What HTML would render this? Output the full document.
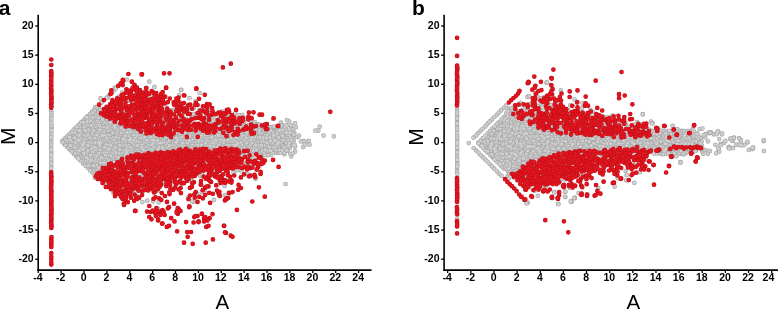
<!DOCTYPE html>
<html><head><meta charset="utf-8"><style>
html,body{margin:0;padding:0;background:#fff;}
svg{display:block;}
.ax{stroke:#000;stroke-width:1.6;}
.tk{stroke:#000;stroke-width:1.3;}
text{font-family:"Liberation Sans",Arial,sans-serif;fill:#000;}
.yl{font-size:10.5px;font-weight:bold;text-anchor:end;}
.xl{font-size:10.5px;font-weight:bold;text-anchor:middle;}
.pl{font-size:21px;font-weight:bold;}
.al{font-size:20.5px;text-anchor:middle;}
.ml{font-size:21px;text-anchor:middle;}
path{fill:none;stroke-linecap:round;}
.go{stroke:#a5a5a5;stroke-width:4.7;}
.gi{stroke:#cfcfcf;stroke-width:3.5;}
.ro{stroke:#bb101a;stroke-width:4.7;}
.ri{stroke:#e3141d;stroke-width:3.7;}
</style></head><body>
<svg width="778" height="310" viewBox="0 0 778 310">
<defs><path id="p1" d="M281.4 137.4h0M74.0 129.6h0M613.8 133.7h0M617.8 146.3h0M132.9 152.9h0M624.0 136.0h0M318.3 130.7h0M570.5 131.2h0M152.7 95.6h0M513.7 176.5h0M592.5 134.4h0M673.9 148.8h0M80.4 127.8h0M512.3 128.7h0M702.4 151.6h0M83.6 132.6h0M532.3 139.0h0M235.8 119.6h0M89.3 147.2h0M96.9 125.4h0M289.3 121.5h0M163.4 166.1h0M99.9 175.6h0M538.2 158.6h0M640.6 124.7h0M102.7 160.1h0M191.2 161.0h0M520.5 123.5h0M548.1 127.2h0M266.4 148.1h0M204.6 131.3h0M71.1 135.5h0M92.4 172.7h0M182.1 132.4h0M585.3 127.7h0M102.9 145.6h0M457.1 140.2h0M546.4 167.0h0M552.1 174.1h0M127.1 142.5h0M623.1 131.5h0M208.9 163.6h0M218.3 150.4h0M514.4 123.6h0M624.7 144.1h0M113.0 147.7h0M698.4 145.8h0M128.5 100.7h0M228.5 137.6h0M222.7 162.2h0M73.5 140.4h0M124.8 148.2h0M199.9 175.8h0M196.4 152.4h0M521.7 171.1h0M720.6 144.2h0M165.2 132.2h0M136.5 93.5h0M260.4 127.2h0M274.9 142.3h0M243.0 127.4h0M558.5 133.4h0M501.6 156.1h0M604.6 117.9h0M531.7 124.2h0M621.6 138.7h0M659.9 153.6h0M213.0 166.6h0M155.4 96.6h0M92.3 167.7h0M131.9 130.2h0M194.1 137.7h0M529.7 119.0h0M182.6 147.2h0M150.7 94.1h0M507.8 176.2h0M603.6 151.1h0M150.2 142.3h0M130.6 152.4h0M51.5 127.8h0M244.4 144.8h0M219.3 128.6h0M116.9 155.2h0M508.8 134.1h0M208.2 175.2h0M263.1 147.9h0M708.8 132.7h0M240.9 117.1h0M529.1 159.0h0M701.7 145.7h0M133.0 182.3h0M227.4 135.2h0M501.4 136.1h0M682.6 133.1h0M517.6 168.3h0M542.6 156.7h0M504.7 151.7h0M166.5 167.0h0M215.7 145.5h0M196.9 138.0h0M85.0 150.6h0M135.9 183.7h0M511.6 164.1h0M527.1 117.4h0M135.5 148.0h0M478.5 142.7h0M131.3 145.3h0M133.5 137.4h0M203.7 150.6h0M158.0 105.7h0M207.3 129.7h0M257.3 152.8h0M150.7 128.2h0M518.8 125.7h0M108.5 120.0h0M613.7 138.9h0M552.7 158.3h0M78.2 147.4h0M549.9 158.3h0M612.2 148.8h0M516.4 121.3h0M621.1 130.8h0M604.1 123.9h0M95.3 122.6h0M176.1 152.2h0M523.7 109.5h0M512.8 136.1h0M744.4 144.8h0M530.9 126.3h0M651.1 137.2h0M244.5 129.4h0M513.4 146.5h0M111.2 173.8h0M507.9 171.3h0M195.6 135.0h0M247.7 135.0h0M500.0 123.6h0M677.2 133.9h0M130.5 193.5h0M543.3 153.9h0M587.2 154.0h0M144.7 153.2h0M673.1 151.3h0M134.2 124.8h0M167.0 121.4h0M582.2 115.0h0M499.3 141.5h0M498.4 161.2h0M231.2 127.7h0M238.8 127.3h0M232.1 119.2h0M216.7 152.8h0M51.2 132.6h0M639.4 138.9h0M224.2 135.1h0M124.5 142.3h0M221.1 130.5h0M208.8 148.1h0M530.2 131.2h0M209.6 125.6h0M213.9 132.2h0M140.9 111.4h0M114.5 155.1h0M718.7 149.7h0M166.7 155.6h0M538.0 123.1h0M509.0 123.8h0M234.6 147.5h0M523.0 138.7h0M258.7 140.5h0M587.4 148.8h0M138.5 189.9h0M719.3 151.6h0M166.0 140.4h0M143.9 164.5h0M494.3 168.7h0M589.5 122.7h0M205.1 132.4h0M152.2 135.3h0M574.2 127.6h0M690.6 135.9h0M110.8 150.1h0M121.0 148.1h0M95.4 127.2h0M533.2 156.2h0M519.3 150.8h0M144.2 189.1h0M534.3 113.3h0M571.3 201.7h0M237.7 148.0h0M687.1 141.0h0M574.9 198.1h0M494.2 133.1h0M659.8 138.6h0M532.6 128.5h0M151.8 171.7h0M178.2 150.5h0M187.7 147.4h0M699.1 141.6h0M562.7 155.8h0M531.2 120.8h0"/></defs>
<use href="#p1" class="go"/><use href="#p1" class="gi"/>
<defs><path id="p2" d="M732.8 141.0h0M623.1 137.3h0M113.9 119.1h0M509.2 148.2h0M563.0 168.6h0M671.2 154.0h0M182.4 172.9h0M494.5 143.2h0M161.8 168.2h0M162.9 182.1h0M505.6 128.9h0M651.2 148.2h0M204.9 189.8h0M124.7 132.7h0M171.5 129.4h0M196.5 118.0h0M219.7 124.9h0M604.2 138.6h0M210.3 139.8h0M636.2 148.3h0M104.4 172.5h0M275.1 132.3h0M72.5 137.5h0M101.6 122.2h0M125.9 160.7h0M543.5 171.6h0M639.2 143.4h0M617.9 135.7h0M181.3 154.9h0M123.4 145.3h0M480.5 130.9h0M559.2 113.0h0M496.4 131.3h0M243.2 142.4h0M217.2 129.3h0M557.2 125.1h0M51.1 139.8h0M89.9 153.0h0M97.3 144.7h0M110.3 157.6h0M183.8 150.4h0M147.4 152.9h0M480.8 140.4h0M144.2 159.8h0M96.9 160.5h0M489.7 136.0h0M542.7 126.7h0M144.5 106.2h0M70.8 150.1h0M536.5 121.0h0M243.6 166.8h0M238.6 124.7h0M541.3 118.3h0M622.5 133.7h0M156.2 147.8h0M122.6 155.5h0M146.6 145.6h0M210.1 175.3h0M597.8 135.7h0M501.4 151.0h0M154.8 171.5h0M666.8 151.5h0M571.0 136.6h0M133.1 127.5h0M129.1 155.3h0M601.3 126.4h0M153.8 132.8h0M105.0 176.8h0M89.5 122.6h0M148.5 140.1h0M98.7 162.6h0M177.5 166.8h0M590.2 149.1h0M283.4 143.0h0M207.8 126.7h0M531.1 140.8h0M129.8 142.3h0M520.4 113.1h0M684.3 150.9h0M552.3 111.0h0M510.6 161.0h0M528.8 138.5h0M250.1 149.9h0M527.8 156.3h0M503.8 168.6h0M261.8 129.9h0M212.7 129.8h0M284.5 154.3h0M479.8 143.2h0M158.1 135.4h0M529.3 117.7h0M83.7 137.8h0M640.4 131.1h0M242.2 114.8h0M130.0 127.7h0M692.7 129.2h0M520.6 102.8h0M535.5 164.2h0M233.1 150.3h0M512.9 121.0h0M763.7 141.1h0M553.6 136.5h0M595.8 138.5h0M628.7 150.4h0M457.2 149.8h0M95.2 112.4h0M497.7 123.6h0M494.5 154.2h0M226.2 143.0h0M516.5 166.0h0M136.9 109.5h0M111.4 125.4h0M230.4 152.1h0M180.8 130.4h0M117.2 181.8h0M235.0 113.4h0M545.2 146.4h0M148.0 137.3h0M155.9 166.5h0M114.3 134.7h0M476.1 150.4h0M191.0 142.3h0M82.0 140.3h0M591.4 141.0h0M105.3 160.7h0M514.7 118.2h0M518.7 130.8h0M203.1 164.9h0M125.1 102.6h0M562.9 117.9h0M253.1 158.5h0M140.6 139.8h0M610.1 132.4h0M173.7 147.3h0M625.7 170.8h0M197.1 193.6h0M124.9 105.9h0M537.9 128.4h0M527.2 174.8h0M248.1 145.5h0M763.8 151.0h0M69.1 142.8h0M544.2 149.0h0M700.8 138.4h0M134.1 178.7h0M85.6 140.1h0M109.5 132.2h0M694.0 142.5h0M668.8 143.7h0M158.0 96.8h0M99.8 119.7h0M724.1 142.9h0M493.0 141.4h0M553.5 131.4h0M626.2 180.3h0M687.0 151.4h0M595.5 120.8h0M680.4 162.4h0M253.0 130.1h0M281.2 148.0h0M284.1 152.6h0M262.5 135.1h0M126.1 125.4h0M167.3 131.0h0M152.3 114.6h0M457.1 154.6h0M518.8 166.5h0M308.7 140.8h0M497.8 144.0h0M219.6 127.5h0M119.8 130.5h0M559.6 131.5h0M667.3 146.5h0M614.6 186.6h0M195.7 139.8h0M198.0 150.4h0M127.0 122.9h0M181.0 155.5h0M205.6 147.3h0M514.5 168.8h0M248.8 138.1h0M503.0 123.5h0M649.7 145.7h0M669.5 145.7h0M518.6 141.3h0M131.9 159.9h0M623.9 151.5h0M481.8 141.4h0M86.9 142.7h0M504.3 146.4h0M602.9 141.0h0M108.8 95.6h0M122.8 150.4h0M233.5 172.6h0M245.8 127.7h0M141.7 152.6h0M154.6 130.1h0M574.9 197.6h0M614.7 146.5h0M158.0 191.0h0M665.1 153.9h0"/></defs>
<use href="#p2" class="go"/><use href="#p2" class="gi"/>
<defs><path id="p3" d="M684.6 152.4h0M167.8 138.1h0M620.2 151.3h0M174.0 104.6h0M748.8 149.9h0M517.2 174.1h0M138.4 93.1h0M187.9 133.0h0M679.6 138.2h0M511.7 158.3h0M498.9 126.0h0M192.1 181.2h0M99.6 114.6h0M510.5 121.1h0M120.3 106.7h0M69.4 134.1h0M457.1 142.6h0M135.1 170.0h0M680.3 153.8h0M554.4 141.3h0M269.4 152.6h0M150.1 166.8h0M103.1 150.3h0M509.0 138.3h0M610.0 159.0h0M154.6 145.1h0M713.9 134.3h0M248.0 125.5h0M517.3 148.5h0M213.7 169.6h0M105.9 125.4h0M513.4 116.1h0M578.6 138.7h0M168.0 153.1h0M154.7 175.7h0M211.2 132.6h0M158.2 144.9h0M614.6 131.4h0M168.7 118.3h0M637.0 133.6h0M565.6 136.1h0M103.6 178.3h0M190.7 157.9h0M682.8 148.9h0M587.1 117.2h0M281.3 127.3h0M482.6 144.0h0M521.7 160.8h0M103.6 158.0h0M488.4 133.3h0M213.6 131.0h0M152.4 92.5h0M457.2 161.8h0M238.7 135.4h0M518.0 153.7h0M149.8 168.8h0M457.0 169.0h0M180.4 150.1h0M535.1 133.7h0M246.6 148.0h0M200.5 163.1h0M96.3 109.6h0M89.1 167.4h0M682.7 139.5h0M568.4 141.1h0M160.9 128.3h0M677.6 148.3h0M259.0 134.8h0M646.4 141.6h0M185.7 148.0h0M518.0 164.1h0M107.3 132.5h0M610.0 153.2h0M149.1 179.5h0M578.9 123.5h0M492.3 157.1h0M560.0 166.9h0M149.5 102.1h0M99.4 135.5h0M108.5 165.0h0M523.6 154.0h0M532.1 148.6h0M101.4 137.5h0M81.3 152.3h0M247.0 127.3h0M92.9 162.9h0M531.8 118.9h0M88.1 140.1h0M234.3 132.3h0M94.3 145.2h0M563.9 138.8h0M214.0 199.9h0M154.9 191.3h0M147.3 167.4h0M279.4 144.7h0M252.0 147.7h0M290.0 148.1h0M677.3 144.2h0M119.9 140.1h0M651.3 145.1h0M513.8 131.5h0M697.1 143.6h0M588.6 131.0h0M98.7 177.3h0M630.4 144.1h0M595.8 133.2h0M634.3 165.1h0M554.6 128.4h0M565.6 130.7h0M730.3 139.0h0M136.5 177.2h0M201.6 150.7h0M252.4 121.5h0M636.1 138.4h0M131.9 134.8h0M132.8 189.1h0M224.6 185.9h0M457.1 145.0h0M236.1 170.5h0M550.9 151.5h0M516.0 151.4h0M117.1 172.1h0M232.7 125.9h0M192.3 130.3h0M510.1 131.3h0M249.6 128.6h0M174.7 169.2h0M271.0 135.2h0M542.6 146.5h0M315.4 130.7h0M221.1 150.7h0M281.0 122.7h0M473.6 148.0h0M277.8 152.9h0M184.1 140.3h0M121.1 157.6h0M520.3 138.6h0M106.0 165.4h0M526.1 183.7h0M228.4 147.8h0M593.0 148.2h0M563.9 133.6h0M224.6 123.5h0M142.8 155.0h0M602.0 149.2h0M457.1 152.2h0M530.9 166.0h0M686.1 152.9h0M603.7 136.0h0M177.8 145.5h0M147.1 162.0h0M521.9 136.1h0M499.2 122.0h0M591.7 136.5h0M499.0 173.6h0M103.0 125.2h0M529.3 154.1h0M544.1 97.4h0M120.2 120.4h0M136.7 106.2h0M150.7 96.3h0M507.5 131.0h0M268.1 140.3h0M731.9 140.2h0M588.6 146.5h0M153.5 152.4h0M64.8 144.6h0M634.7 146.7h0M192.0 134.8h0M248.7 133.0h0M124.1 163.6h0M111.3 130.1h0M164.1 154.0h0M160.3 140.6h0M557.2 151.2h0M155.1 105.9h0M76.3 156.3h0M177.9 176.0h0M554.4 155.8h0M606.5 141.2h0M514.3 143.3h0M690.4 151.2h0M109.9 127.3h0M225.5 132.7h0M191.5 130.2h0M200.6 149.9h0M138.7 157.7h0M671.7 148.5h0M224.7 144.8h0M546.5 82.7h0M559.2 136.3h0M163.6 145.5h0M294.3 132.9h0M570.2 128.1h0M678.7 151.0h0M197.2 115.6h0M305.8 141.8h0M548.2 155.8h0M183.1 163.7h0M457.0 109.0h0M194.2 142.8h0"/></defs>
<use href="#p3" class="go"/><use href="#p3" class="gi"/>
<defs><path id="p4" d="M633.7 133.3h0M555.7 139.1h0M537.5 164.3h0M124.0 157.7h0M85.2 119.7h0M161.6 137.8h0M638.4 136.2h0M626.3 129.6h0M125.8 179.9h0M163.1 163.5h0M257.5 127.5h0M113.7 90.7h0M83.2 163.4h0M193.9 124.0h0M557.9 116.3h0M127.4 180.3h0M556.6 156.2h0M592.3 121.2h0M279.4 140.3h0M163.9 130.3h0M485.4 126.4h0M230.6 129.9h0M100.1 174.9h0M229.6 120.0h0M83.2 120.6h0M136.8 195.8h0M154.5 86.9h0M638.4 151.6h0M121.7 138.1h0M504.6 166.7h0M675.5 151.6h0M675.7 141.6h0M156.7 153.0h0M559.2 171.1h0M243.3 137.3h0M549.5 143.7h0M241.6 140.2h0M147.7 147.4h0M539.8 141.0h0M113.0 127.5h0M641.2 141.5h0M213.0 123.7h0M171.2 132.8h0M661.6 151.6h0M545.5 179.9h0M202.4 150.7h0M227.8 129.0h0M561.0 139.0h0M115.8 122.4h0M240.5 137.3h0M117.3 150.0h0M81.9 155.0h0M66.8 142.6h0M210.8 114.9h0M265.1 140.5h0M492.5 136.1h0M126.0 145.1h0M142.0 179.5h0M643.3 136.4h0M681.8 141.3h0M201.7 128.7h0M87.8 168.0h0M139.3 131.5h0M69.4 149.3h0M147.4 118.2h0M106.7 162.4h0M169.0 149.9h0M119.6 155.6h0M220.1 147.5h0M154.4 150.7h0M669.5 151.0h0M291.6 145.0h0M676.7 153.8h0M103.9 143.1h0M494.2 158.3h0M500.1 159.1h0M655.8 136.6h0M285.4 130.0h0M508.6 118.5h0M589.8 134.1h0M134.1 160.6h0M108.5 112.4h0M205.6 118.5h0M204.1 130.4h0M494.3 117.0h0M225.1 167.4h0M684.7 141.4h0M505.6 148.6h0M230.7 134.7h0M130.1 157.4h0M251.9 128.4h0M144.8 148.1h0M147.6 127.6h0M191.0 138.0h0M602.9 131.4h0M656.7 153.5h0M211.5 152.6h0M529.7 123.8h0M579.4 169.5h0M126.9 173.7h0M605.1 153.5h0M66.0 137.9h0M222.8 168.2h0M199.9 156.8h0M621.1 140.7h0M260.9 133.0h0M116.7 100.3h0M473.6 137.7h0M629.4 141.3h0M168.5 121.8h0M558.0 157.1h0M597.7 131.2h0M608.0 153.9h0M124.1 152.6h0M581.8 195.0h0M271.1 144.9h0M539.3 135.8h0M92.5 158.0h0M585.3 136.2h0M652.1 130.9h0M615.0 151.5h0M167.3 162.1h0M180.5 135.5h0M600.4 150.8h0M137.7 155.0h0M487.2 146.3h0M573.2 139.0h0M252.2 153.2h0M509.0 113.7h0M589.8 143.5h0M285.3 135.5h0M457.1 130.6h0M549.6 111.3h0M117.0 164.6h0M503.6 158.3h0M249.9 161.6h0M529.1 163.9h0M648.5 131.0h0M160.5 158.7h0M570.2 133.4h0M203.7 140.4h0M100.6 98.4h0M626.2 141.3h0M170.3 142.7h0M579.3 166.9h0M243.7 132.3h0M103.7 137.3h0M546.5 121.9h0M141.8 142.3h0M166.4 108.6h0M64.8 138.6h0M171.8 134.7h0M655.8 131.2h0M513.3 151.3h0M497.4 148.5h0M112.6 167.4h0M504.2 156.6h0M144.5 123.2h0M609.1 136.1h0M641.2 135.9h0M297.3 137.1h0M193.6 201.7h0M189.8 145.1h0M506.3 113.3h0M228.1 114.5h0M119.8 122.9h0M627.1 127.4h0M237.8 121.5h0M132.8 95.6h0M509.3 173.9h0M688.7 133.2h0M584.7 117.5h0M629.1 130.7h0M100.2 160.7h0M238.3 159.5h0M292.4 137.8h0M596.3 152.4h0M664.0 147.4h0M146.0 155.4h0M605.7 145.9h0M662.2 134.1h0M556.7 136.5h0M79.4 145.1h0M615.2 124.2h0M516.4 161.0h0M116.1 162.7h0M258.1 142.5h0M661.6 136.6h0M601.9 143.2h0M257.8 132.8h0M106.2 186.7h0M687.6 145.7h0M161.6 119.1h0M529.9 121.1h0M253.2 135.6h0M196.7 142.3h0M78.6 125.1h0M219.6 163.4h0M633.9 136.3h0M86.9 147.9h0M98.6 158.2h0"/></defs>
<use href="#p4" class="go"/><use href="#p4" class="gi"/>
<defs><path id="p5" d="M148.7 135.4h0M113.1 122.1h0M110.0 152.3h0M143.6 186.9h0M122.8 163.1h0M584.5 166.1h0M128.6 140.0h0M576.6 140.8h0M96.7 130.4h0M95.1 168.0h0M193.7 107.7h0M152.0 92.2h0M590.3 125.4h0M643.0 148.5h0M530.2 151.7h0M604.7 143.8h0M51.3 142.2h0M549.8 138.8h0M457.1 157.0h0M524.9 166.2h0M529.7 133.8h0M601.9 134.1h0M580.0 151.7h0M695.5 150.3h0M85.5 118.3h0M498.5 151.6h0M543.7 158.3h0M600.2 135.7h0M256.2 134.9h0M709.6 133.2h0M503.0 119.0h0M140.2 130.6h0M160.4 150.1h0M82.3 135.3h0M621.6 148.7h0M229.1 128.0h0M87.8 116.0h0M618.1 151.2h0M551.0 145.8h0M147.4 142.4h0M200.3 113.7h0M228.3 149.2h0M648.0 148.3h0M651.0 121.5h0M162.1 133.1h0M573.3 112.1h0M138.5 161.4h0M127.6 127.5h0M74.1 135.3h0M275.0 137.6h0M186.3 145.2h0M564.8 163.7h0M656.9 148.9h0M188.4 197.0h0M583.9 128.9h0M581.6 133.6h0M208.1 138.1h0M549.1 149.0h0M274.0 145.2h0M541.8 126.0h0M111.8 181.4h0M255.9 140.1h0M545.2 130.7h0M568.8 156.4h0M144.7 104.2h0M267.6 155.3h0M176.5 132.3h0M517.5 113.1h0M693.4 139.8h0M127.5 91.6h0M554.1 150.8h0M274.7 152.6h0M213.3 117.7h0M574.0 117.4h0M150.0 133.1h0M171.8 167.4h0M575.6 138.3h0M170.8 152.4h0M182.4 107.3h0M655.2 141.4h0M671.0 143.5h0M498.7 130.7h0M156.6 137.6h0M514.9 105.5h0M122.3 99.6h0M699.7 129.0h0M91.1 115.1h0M512.8 141.4h0M206.0 137.4h0M142.0 126.8h0M229.6 118.0h0M130.3 137.9h0M562.4 131.0h0M628.3 133.2h0M251.8 132.7h0M235.6 125.1h0M216.0 168.1h0M555.6 128.8h0M244.1 122.5h0M51.4 111.0h0M642.6 143.7h0M134.0 121.1h0M652.9 136.0h0M83.5 152.5h0M165.8 150.9h0M594.4 146.1h0M159.6 137.3h0M131.1 139.9h0M652.2 141.1h0M499.2 156.5h0M168.8 127.9h0M547.0 128.5h0M653.6 143.7h0M230.0 129.8h0M216.7 137.5h0M487.7 152.5h0M221.9 175.0h0M524.9 115.6h0M104.0 127.4h0M110.9 140.0h0M238.4 157.5h0M488.9 138.8h0M276.3 130.0h0M249.1 127.4h0M647.7 135.0h0M532.3 144.0h0M527.7 135.9h0M105.7 150.3h0M753.2 147.7h0M309.6 144.7h0M532.1 165.9h0M169.4 179.5h0M580.2 131.0h0M147.7 122.9h0M200.0 133.0h0M93.7 115.0h0M125.2 109.7h0M495.9 136.4h0M535.5 128.1h0M94.9 162.3h0M511.6 174.2h0M196.5 147.2h0M179.9 142.2h0M695.6 146.2h0M214.7 127.4h0M138.6 132.2h0M113.7 101.8h0M519.5 155.8h0M496.9 114.9h0M187.0 130.2h0M120.0 85.0h0M180.9 118.0h0M570.3 116.0h0M693.1 146.3h0M607.2 136.4h0M173.4 132.2h0M534.9 153.8h0M199.5 142.5h0M729.7 147.5h0M613.2 131.4h0M552.8 128.2h0M123.1 120.4h0M562.9 150.9h0M234.6 152.9h0M228.7 143.0h0M154.4 135.0h0M557.4 169.8h0M515.1 173.6h0M188.8 113.5h0M729.0 146.8h0M189.3 109.1h0M199.4 148.2h0M130.1 100.6h0M96.7 115.2h0M512.1 143.8h0M258.9 150.2h0M626.6 175.0h0M614.8 135.9h0M89.9 127.6h0M143.7 179.5h0M634.6 141.0h0M688.6 148.5h0M212.9 127.7h0M84.8 154.8h0M264.3 125.5h0M303.2 147.1h0M158.6 101.8h0M285.6 184.0h0M108.4 114.7h0M690.1 139.9h0M226.7 118.7h0M601.9 153.6h0M576.2 171.6h0M622.0 143.4h0M531.9 133.5h0M98.7 137.2h0M78.1 138.1h0M549.3 154.2h0M527.4 96.9h0M143.6 139.9h0M626.6 136.1h0"/></defs>
<use href="#p5" class="go"/><use href="#p5" class="gi"/>
<defs><path id="p6" d="M514.7 164.1h0M527.8 161.1h0M51.4 125.4h0M595.3 124.5h0M248.6 147.3h0M77.6 133.0h0M615.8 143.6h0M512.0 118.3h0M186.1 119.1h0M556.5 129.3h0M84.8 159.9h0M563.8 143.7h0M212.7 135.0h0M601.4 138.3h0M511.6 124.0h0M520.6 118.3h0M573.3 163.1h0M210.3 149.7h0M632.0 151.5h0M163.4 140.3h0M177.8 135.3h0M274.1 139.9h0M77.6 143.0h0M683.7 154.3h0M510.8 110.7h0M507.9 166.5h0M103.0 140.5h0M527.7 202.7h0M697.4 138.9h0M95.0 177.9h0M290.9 135.3h0M145.0 128.1h0M142.0 175.5h0M141.3 91.8h0M263.7 127.6h0M266.2 132.7h0M267.6 130.3h0M668.7 148.5h0M698.5 136.0h0M625.1 149.1h0M87.8 155.3h0M678.5 153.9h0M186.7 161.5h0M165.8 115.2h0M121.8 111.8h0M486.2 139.1h0M319.7 126.7h0M135.9 142.3h0M213.8 137.3h0M205.5 152.4h0M118.4 132.5h0M109.9 137.7h0M95.6 117.3h0M501.5 175.9h0M256.2 129.7h0M276.2 140.4h0M51.1 120.6h0M536.6 160.8h0M184.2 144.9h0M539.9 124.3h0M502.9 128.9h0M155.7 156.0h0M171.7 187.3h0M254.8 142.3h0M524.9 161.0h0M198.0 135.5h0M249.1 164.6h0M148.8 145.6h0M457.3 137.8h0M155.3 127.6h0M516.5 116.5h0M523.1 123.6h0M175.2 130.2h0M694.1 139.0h0M286.9 120.0h0M101.3 132.5h0M137.2 140.0h0M106.8 167.9h0M218.7 115.5h0M286.4 138.0h0M526.1 143.6h0M529.4 143.3h0M535.3 123.8h0M567.8 167.3h0M597.2 146.2h0M73.8 129.8h0M287.1 140.3h0M557.2 130.8h0M587.7 133.8h0M126.9 137.2h0M208.0 156.9h0M525.1 146.5h0M660.0 136.2h0M598.4 143.3h0M513.6 156.5h0M141.3 123.3h0M607.4 133.6h0M660.1 148.5h0M181.2 145.2h0M534.0 136.2h0M100.8 147.5h0M86.7 162.4h0M143.6 135.3h0M257.8 137.6h0M233.4 135.5h0M502.7 133.4h0M496.9 161.7h0M127.3 98.1h0M93.9 140.2h0M634.7 151.1h0M237.7 133.0h0M550.9 136.0h0M507.1 136.5h0M121.8 117.8h0M90.9 145.2h0M501.9 121.0h0M565.3 124.0h0M263.5 142.2h0M663.1 144.1h0M540.4 105.2h0M92.1 112.1h0M557.0 145.9h0M242.1 167.5h0M175.1 132.3h0M564.8 153.1h0M208.7 132.6h0M76.8 155.2h0M232.0 142.5h0M160.9 130.1h0M199.7 93.0h0M262.2 139.8h0M196.4 130.8h0M184.0 129.6h0M205.2 111.7h0M585.5 151.1h0M505.8 163.9h0M86.5 127.2h0M100.2 165.1h0M71.7 131.8h0M195.9 145.3h0M170.7 147.3h0M546.3 111.4h0M128.6 160.7h0M254.9 122.3h0M588.2 163.2h0M272.1 143.0h0M98.5 172.6h0M207.9 123.4h0M652.2 145.7h0M181.3 89.9h0M203.0 137.3h0M222.1 111.3h0M263.5 132.6h0M130.8 126.1h0M96.5 139.8h0M124.3 122.6h0M574.3 151.2h0M124.1 100.5h0M160.2 155.3h0M289.2 139.9h0M202.1 158.3h0M505.9 133.7h0M146.7 107.0h0M92.5 137.4h0M490.1 141.1h0M221.3 145.5h0M556.2 121.9h0M535.3 138.2h0M180.8 140.2h0M51.5 113.4h0M216.8 143.1h0M556.8 141.5h0M589.9 172.0h0M577.4 146.4h0M544.2 143.6h0M271.0 154.9h0M648.5 138.9h0M501.2 126.0h0M273.6 150.0h0M243.5 147.3h0M247.3 130.0h0M255.4 165.6h0M606.3 120.6h0M282.6 145.3h0M182.5 127.1h0M234.6 143.1h0M221.8 125.3h0M610.5 119.3h0M680.6 162.2h0M219.7 119.2h0M623.2 134.8h0M206.7 149.9h0M144.3 142.7h0M192.2 201.3h0M179.9 127.8h0M694.3 143.8h0M576.6 126.9h0M90.6 135.3h0M536.7 141.2h0M117.0 140.7h0M152.4 174.9h0"/></defs>
<use href="#p6" class="go"/><use href="#p6" class="gi"/>
<defs><path id="p7" d="M530.3 156.3h0M295.1 146.6h0M639.5 148.7h0M594.2 141.5h0M502.7 154.1h0M244.1 119.3h0M254.8 147.8h0M546.9 153.7h0M635.5 135.7h0M110.3 117.8h0M672.9 136.1h0M626.5 152.8h0M642.7 162.1h0M680.3 148.9h0M619.6 138.7h0M237.7 152.4h0M540.7 143.3h0M193.6 153.6h0M284.9 140.4h0M555.1 159.0h0M293.2 129.2h0M549.2 128.2h0M575.4 149.0h0M552.4 126.0h0M584.5 154.2h0M589.9 132.8h0M111.5 160.1h0M80.7 137.9h0M74.0 154.0h0M137.6 125.0h0M578.6 193.1h0M542.2 150.7h0M662.6 148.4h0M541.9 160.9h0M152.0 177.2h0M668.7 134.1h0M627.2 164.7h0M506.3 158.6h0M220.3 153.0h0M565.9 151.6h0M103.6 112.6h0M630.5 138.3h0M209.6 149.8h0M227.6 125.5h0M593.7 161.0h0M611.7 146.6h0M672.7 125.9h0M185.6 142.6h0M258.2 147.9h0M244.1 126.2h0M51.4 151.8h0M163.4 96.7h0M681.9 136.1h0M507.8 151.4h0M632.7 136.3h0M627.4 138.3h0M105.4 140.5h0M675.2 137.7h0M188.2 128.0h0M196.8 127.9h0M600.6 121.5h0M108.8 124.9h0M62.5 140.8h0M567.6 115.9h0M156.6 132.8h0M134.1 139.8h0M568.0 174.9h0M250.4 134.7h0M224.5 125.8h0M508.8 143.9h0M76.1 145.2h0M523.7 148.9h0M540.9 163.5h0M106.4 180.4h0M558.2 204.0h0M86.2 137.6h0M138.4 137.7h0M273.6 130.5h0M172.5 139.7h0M92.5 142.7h0M506.5 169.1h0M488.7 148.3h0M542.5 106.7h0M533.4 125.7h0M642.9 114.3h0M535.7 122.7h0M150.0 128.1h0M143.5 174.0h0M51.3 166.2h0M95.7 133.0h0M545.3 160.0h0M608.6 145.9h0M107.6 180.1h0M98.5 107.5h0M567.3 153.7h0M685.4 148.7h0M664.0 130.9h0M539.2 155.8h0M612.6 135.0h0M636.1 143.3h0M599.0 148.2h0M558.0 160.1h0M71.9 147.4h0M662.4 138.7h0M526.6 180.5h0M655.6 146.3h0M514.6 138.5h0M184.0 135.4h0M616.1 138.7h0M117.0 116.2h0M631.9 146.4h0M175.4 134.8h0M295.1 151.4h0M168.4 171.4h0M537.2 170.7h0M537.7 114.9h0M247.3 149.7h0M560.7 179.9h0M172.2 129.8h0M146.8 129.5h0M500.1 143.3h0M668.7 138.2h0M222.5 137.4h0M81.3 143.2h0M117.2 125.3h0M124.7 186.8h0M517.4 173.9h0M117.2 145.0h0M126.2 129.6h0M111.4 134.7h0M606.5 130.2h0M262.3 155.7h0M99.7 140.3h0M180.9 162.8h0M106.6 157.7h0M182.4 137.3h0M241.3 125.3h0M128.9 145.4h0M290.1 137.2h0M99.5 155.5h0M504.2 141.0h0M690.0 146.3h0M241.0 161.3h0M199.3 110.4h0M499.9 153.7h0M142.1 98.9h0M264.7 145.3h0M243.7 152.4h0M581.6 108.3h0M139.0 171.1h0M152.2 155.7h0M72.2 142.3h0M67.1 146.9h0M285.8 143.6h0M87.0 152.6h0M649.1 151.0h0M529.0 187.5h0M123.2 125.1h0M144.4 99.9h0M67.5 145.2h0M487.7 133.5h0M260.2 152.7h0M513.2 161.1h0M235.9 140.5h0M537.5 133.6h0M691.9 138.5h0M520.7 181.0h0M123.2 159.9h0M127.5 147.6h0M567.1 134.1h0M287.8 150.7h0M161.0 145.1h0M707.8 150.8h0M168.2 132.4h0M643.1 124.8h0M103.0 155.2h0M719.3 139.0h0M557.9 144.1h0M128.4 135.6h0M113.7 145.1h0M122.5 135.6h0M567.0 138.7h0M121.0 142.7h0M728.6 147.7h0M102.1 109.9h0M182.8 132.8h0M559.3 141.0h0M244.0 154.5h0M565.2 179.4h0M613.2 143.2h0M541.0 108.4h0M627.6 143.6h0M201.9 192.3h0M245.0 135.4h0M253.8 140.1h0M281.3 142.3h0M278.5 147.8h0M132.9 143.0h0M98.7 147.5h0M576.2 151.2h0M240.5 152.9h0"/></defs>
<use href="#p7" class="go"/><use href="#p7" class="gi"/>
<defs><path id="p8" d="M704.5 149.9h0M228.8 152.3h0M708.0 153.8h0M620.2 146.3h0M752.6 149.1h0M548.4 161.7h0M194.0 132.9h0M215.5 124.9h0M587.7 138.3h0M247.9 140.0h0M74.1 149.9h0M125.1 195.6h0M144.2 115.6h0M93.9 170.2h0M549.4 120.0h0M489.8 164.1h0M601.7 161.2h0M598.3 129.9h0M100.9 117.7h0M102.9 165.6h0M94.2 160.2h0M146.3 96.7h0M591.4 131.3h0M548.8 174.0h0M77.5 127.4h0M512.3 109.4h0M204.9 158.4h0M546.4 138.3h0M516.5 145.8h0M528.2 131.5h0M266.1 152.3h0M126.6 79.5h0M184.8 152.3h0M457.1 111.4h0M140.0 150.4h0M545.1 156.1h0M217.6 185.0h0M104.9 168.2h0M107.1 123.0h0M493.1 150.8h0M121.1 153.2h0M634.3 146.9h0M511.9 148.3h0M574.4 136.0h0M678.5 146.4h0M139.7 158.2h0M575.6 133.4h0M117.4 174.3h0M266.6 127.3h0M495.8 126.6h0M668.7 153.6h0M518.4 114.5h0M76.3 127.3h0M560.9 90.3h0M457.1 171.4h0M90.1 113.8h0M510.4 151.7h0M195.6 101.4h0M585.1 123.9h0M133.2 86.5h0M138.2 104.8h0M189.4 106.7h0M119.7 194.5h0M118.6 147.4h0M180.3 172.1h0M582.6 130.7h0M75.4 153.2h0M507.5 146.0h0M620.8 159.0h0M513.5 171.5h0M101.6 157.7h0M197.9 129.8h0M140.2 155.1h0M89.2 132.8h0M549.1 105.2h0M51.4 161.4h0M269.3 142.5h0M227.2 180.9h0M142.4 202.1h0M236.5 130.1h0M217.3 127.5h0M626.3 161.3h0M232.6 156.6h0M659.9 143.2h0M51.2 156.6h0M175.1 140.1h0M134.1 127.6h0M94.0 135.1h0M132.7 157.4h0M186.2 135.0h0M509.4 128.9h0M554.2 126.4h0M132.5 105.7h0M674.1 139.1h0M208.2 166.3h0M112.9 152.7h0M106.5 142.5h0M86.2 132.4h0M647.8 133.2h0M578.5 132.5h0M516.6 131.1h0M153.3 137.8h0M537.9 174.2h0M609.6 150.5h0M170.0 111.1h0M546.1 118.9h0M565.0 145.9h0M546.1 116.1h0M703.3 153.8h0M293.7 140.6h0M487.6 161.8h0M221.1 127.8h0M532.1 158.8h0M277.6 133.0h0M232.7 124.9h0M255.3 124.7h0M695.7 136.4h0M570.1 153.9h0M569.7 128.5h0M656.8 138.6h0M457.3 164.2h0M276.2 134.8h0M178.4 174.2h0M579.6 141.2h0M561.0 133.8h0M525.1 136.3h0M763.8 140.0h0M661.1 130.7h0M224.9 130.1h0M211.7 147.7h0M560.5 158.7h0M567.0 148.2h0M549.1 133.3h0M697.7 148.3h0M164.7 142.2h0M549.2 108.9h0M486.1 143.9h0M118.8 142.8h0M503.8 117.4h0M166.2 150.1h0M160.9 121.9h0M85.3 145.1h0M485.3 159.7h0M217.2 113.9h0M240.4 155.4h0M210.7 168.0h0M530.8 160.8h0M199.4 123.9h0M558.4 204.2h0M98.0 132.2h0M610.3 148.7h0M51.2 154.2h0M623.9 146.5h0M186.4 128.8h0M578.9 153.5h0M506.0 105.6h0M504.7 161.6h0M524.7 150.8h0M125.7 140.2h0M83.3 162.8h0M514.5 129.0h0M217.3 158.7h0M484.1 141.6h0M142.7 192.0h0M513.5 126.3h0M624.7 138.8h0M681.8 130.9h0M611.4 151.6h0M532.6 163.6h0M501.5 119.7h0M510.5 146.5h0M114.6 120.0h0M627.6 149.0h0M178.5 130.3h0M91.4 165.5h0M536.7 136.5h0M609.0 151.6h0M51.3 115.8h0M163.6 213.5h0M593.0 133.4h0M120.1 135.4h0M243.8 151.3h0M504.2 125.8h0M501.5 165.8h0M557.8 139.0h0M697.1 133.3h0M177.4 103.7h0M254.6 137.2h0M551.2 107.2h0M571.1 140.8h0M173.7 152.9h0M693.3 136.2h0M240.0 147.6h0M643.9 145.7h0M131.9 155.3h0M177.0 150.1h0M736.1 144.7h0M192.1 145.0h0M565.4 174.1h0M690.3 140.7h0M623.7 140.7h0"/></defs>
<use href="#p8" class="go"/><use href="#p8" class="gi"/>
<defs><path id="p9" d="M212.6 144.7h0M637.8 141.0h0M575.7 153.6h0M215.3 150.2h0M634.3 124.5h0M653.5 133.9h0M95.5 152.8h0M133.5 118.1h0M141.6 127.9h0M167.9 142.5h0M492.3 128.9h0M577.3 155.8h0M278.1 127.1h0M224.6 155.0h0M208.9 127.9h0M107.7 97.5h0M149.4 130.6h0M548.6 118.1h0M151.8 130.2h0M557.9 159.0h0M550.6 141.6h0M517.7 138.9h0M224.8 195.2h0M536.0 146.0h0M135.8 122.0h0M640.6 151.5h0M187.9 131.5h0M684.3 145.8h0M146.0 130.2h0M533.2 166.4h0M118.8 137.9h0M681.3 146.4h0M613.7 148.7h0M84.0 158.0h0M683.4 153.7h0M76.1 135.3h0M492.7 146.3h0M565.1 129.6h0M140.1 135.3h0M238.2 130.0h0M291.3 156.3h0M536.4 156.3h0M560.7 153.6h0M490.4 151.2h0M130.3 171.6h0M493.4 155.8h0M124.7 127.4h0M186.3 123.7h0M515.7 111.5h0M502.7 138.4h0M146.4 140.3h0M274.9 127.6h0M88.0 125.3h0M626.1 123.4h0M211.0 172.2h0M166.1 145.4h0M531.8 105.1h0M204.2 125.5h0M122.1 169.5h0M573.8 124.9h0M601.7 149.1h0M574.6 141.2h0M504.3 120.7h0M194.8 132.1h0M536.1 150.9h0M138.3 118.7h0M572.3 154.0h0M267.6 150.7h0M139.4 174.1h0M281.8 125.2h0M169.7 155.5h0M244.7 130.4h0M139.2 142.3h0M242.2 135.3h0M637.1 122.2h0M51.4 123.0h0M144.4 112.2h0M546.3 170.2h0M150.7 137.4h0M547.7 131.2h0M186.6 139.7h0M283.7 137.4h0M109.6 142.9h0M501.8 161.6h0M116.1 117.7h0M207.4 145.2h0M551.6 104.9h0M192.1 150.1h0M516.5 135.8h0M506.0 139.1h0M747.3 142.5h0M134.5 130.1h0M158.5 202.3h0M109.6 167.4h0M510.0 116.4h0M289.6 128.1h0M505.6 118.3h0M527.8 141.5h0M156.0 121.8h0M107.4 112.9h0M483.1 157.4h0M192.1 139.9h0M574.0 198.1h0M94.7 175.1h0M108.4 135.2h0M254.7 152.5h0M177.6 132.9h0M141.5 159.9h0M64.4 140.4h0M138.7 183.5h0M695.7 141.3h0M508.6 158.7h0M629.0 146.3h0M532.2 168.6h0M658.2 141.6h0M199.6 128.0h0M611.8 141.1h0M569.9 143.8h0M649.4 141.7h0M155.8 133.9h0M166.4 103.3h0M239.3 140.2h0M564.4 129.0h0M599.4 170.4h0M457.1 147.4h0M203.1 143.0h0M51.4 118.2h0M285.5 149.8h0M607.3 149.1h0M595.5 143.7h0M120.2 103.8h0M501.8 146.4h0M130.3 117.9h0M205.5 128.1h0M494.1 128.3h0M551.3 155.4h0M220.3 138.0h0M65.4 144.9h0M136.6 103.3h0M250.5 126.5h0M177.9 128.7h0M106.7 117.3h0M562.6 140.9h0M524.7 156.6h0M114.0 129.8h0M215.9 124.0h0M117.3 120.0h0M509.1 108.8h0M634.3 182.8h0M532.5 123.2h0M621.7 135.4h0M541.9 131.4h0M526.5 203.4h0M102.7 170.4h0M640.8 133.2h0M561.0 128.3h0M620.1 131.5h0M522.3 155.8h0M265.1 134.9h0M541.2 139.1h0M592.6 167.0h0M163.1 176.9h0M102.6 130.3h0M73.9 144.9h0M210.2 129.9h0M610.9 138.2h0M501.9 141.1h0M272.2 138.1h0M124.4 167.6h0M119.8 145.2h0M93.4 124.9h0M191.1 127.8h0M617.9 123.3h0M574.4 99.5h0M582.5 146.1h0M573.8 146.3h0M261.0 143.0h0M181.1 114.9h0M630.5 133.7h0M280.0 135.0h0M93.8 120.6h0M569.4 138.2h0M145.7 150.7h0M711.0 132.4h0M82.8 125.4h0M90.6 140.6h0M663.7 141.8h0M524.1 120.2h0M478.2 133.2h0M511.8 138.8h0M208.7 142.8h0M218.4 140.5h0M288.0 130.5h0M214.3 147.8h0M211.4 128.9h0M67.8 140.3h0M586.0 130.7h0M626.0 151.2h0M232.1 116.5h0M496.3 141.5h0M483.1 138.2h0"/></defs>
<use href="#p9" class="go"/><use href="#p9" class="gi"/>
<defs><path id="p10" d="M485.3 148.3h0M655.4 151.1h0M76.4 130.3h0M526.3 163.3h0M694.6 134.0h0M182.5 115.1h0M694.1 148.5h0M548.1 171.1h0M100.0 170.1h0M551.1 130.1h0M136.2 158.2h0M496.2 155.9h0M270.5 140.5h0M117.1 113.3h0M147.3 200.7h0M215.3 130.5h0M194.1 148.1h0M598.2 188.2h0M201.4 140.4h0M115.2 132.3h0M261.1 148.0h0M583.3 136.1h0M605.9 151.5h0M106.0 183.1h0M568.8 136.1h0M102.8 171.1h0M150.9 147.6h0M616.3 133.4h0M138.1 186.8h0M260.5 137.2h0M158.7 132.8h0M86.2 122.5h0M261.2 127.7h0M643.6 131.5h0M725.4 140.9h0M697.4 133.9h0M92.4 111.5h0M281.4 125.5h0M519.1 146.0h0M557.1 118.3h0M609.5 129.8h0M566.7 143.8h0M560.4 163.8h0M512.9 174.7h0M153.5 133.9h0M259.1 145.2h0M644.2 141.6h0M565.3 197.0h0M89.7 158.1h0M582.7 118.3h0M543.2 116.5h0M633.8 143.7h0M552.4 153.8h0M84.0 148.1h0M188.5 137.4h0M286.7 147.2h0M303.7 141.2h0M98.6 142.4h0M149.7 132.2h0M164.8 152.5h0M227.6 145.2h0M210.1 145.6h0M602.2 155.9h0M82.8 149.8h0M577.1 151.6h0M517.5 118.9h0M246.3 152.5h0M578.5 112.5h0M248.9 143.0h0M716.8 133.4h0M512.3 168.3h0M89.3 117.1h0M124.5 115.6h0M97.3 175.2h0M526.5 128.9h0M272.7 132.2h0M238.6 130.0h0M103.7 152.9h0M189.3 130.1h0M537.3 96.2h0M94.4 109.5h0M226.0 137.2h0M457.2 116.2h0M112.9 137.7h0M561.2 158.3h0M121.3 132.8h0M581.5 154.8h0M562.3 146.0h0M114.5 187.3h0M248.8 153.0h0M507.9 141.0h0M161.5 114.8h0M63.8 142.3h0M623.0 121.2h0M536.3 131.3h0M497.1 158.8h0M653.6 138.2h0M114.8 87.7h0M524.7 173.8h0M244.2 125.5h0M510.4 110.7h0M236.1 135.3h0M457.3 173.8h0M125.9 120.0h0M545.3 140.8h0M183.3 166.6h0M267.5 134.9h0M166.6 134.9h0M281.2 132.6h0M122.2 92.6h0M285.3 145.3h0M227.8 125.2h0M527.2 177.6h0M235.6 150.5h0M603.5 157.1h0M204.4 150.0h0M240.8 127.1h0M520.4 168.7h0M188.4 104.6h0M173.4 137.6h0M192.0 163.6h0M233.4 129.9h0M87.8 120.5h0M121.3 189.4h0M109.5 163.2h0M138.8 147.2h0M115.6 157.9h0M497.8 133.7h0M597.0 151.0h0M675.4 155.3h0M292.3 132.6h0M570.5 112.8h0M137.3 130.0h0M252.2 137.4h0M531.0 136.4h0M520.2 133.9h0M122.7 175.0h0M205.1 162.6h0M94.9 138.1h0M142.1 114.6h0M612.0 127.5h0M574.1 131.2h0M250.8 140.3h0M210.9 127.6h0M80.9 147.9h0M172.8 181.0h0M581.1 148.8h0M165.3 137.2h0M496.9 124.3h0M518.9 116.3h0M99.9 145.2h0M502.7 149.0h0M661.1 141.6h0M105.4 130.2h0M222.1 165.4h0M90.5 130.4h0M175.1 155.2h0M521.7 131.0h0M164.3 170.1h0M113.0 168.8h0M200.3 117.7h0M209.8 135.1h0M186.3 150.2h0M230.4 150.2h0M539.8 126.5h0M684.3 131.2h0M208.9 116.5h0M541.1 98.3h0M169.0 129.9h0M213.3 120.3h0M141.4 138.1h0M155.8 102.8h0M559.5 146.1h0M632.0 141.5h0M189.6 135.5h0M487.4 136.2h0M295.1 123.4h0M593.8 153.4h0M144.9 129.2h0M106.7 152.6h0M612.4 115.7h0M174.8 110.2h0M505.7 123.4h0M734.0 137.6h0M157.4 129.9h0M658.7 136.2h0M172.7 170.2h0M159.0 109.0h0M610.2 154.0h0M674.4 153.6h0M570.1 187.9h0M187.7 143.1h0M253.5 150.6h0M286.4 150.5h0M593.8 131.8h0M204.6 108.7h0M527.5 111.3h0M51.2 144.6h0M108.6 155.5h0M100.7 142.8h0M586.8 143.6h0"/></defs>
<use href="#p10" class="go"/><use href="#p10" class="gi"/>
<defs><path id="p11" d="M652.6 123.2h0M637.8 154.2h0M224.9 124.6h0M498.7 146.4h0M264.0 153.1h0M540.7 128.6h0M172.4 154.8h0M149.6 111.5h0M118.9 128.0h0M95.2 147.4h0M232.1 132.8h0M576.7 113.5h0M670.2 136.0h0M649.1 145.9h0M248.8 158.5h0M226.1 128.0h0M572.8 149.1h0M261.6 145.5h0M85.5 165.7h0M628.8 128.8h0M128.5 150.5h0M534.3 120.0h0M538.3 109.1h0M476.1 135.6h0M623.1 131.5h0M509.4 163.3h0M208.5 152.3h0M659.8 133.3h0M95.3 107.0h0M636.6 128.4h0M133.3 132.4h0M114.2 165.4h0M543.3 114.0h0M521.9 125.9h0M581.0 143.5h0M141.5 133.0h0M515.8 174.5h0M520.5 163.7h0M493.5 130.7h0M269.5 132.3h0M100.7 162.7h0M640.1 143.6h0M649.2 129.7h0M565.4 126.3h0M155.8 143.1h0M98.6 122.5h0M520.5 158.9h0M184.0 182.3h0M634.0 148.2h0M646.3 131.6h0M295.8 127.3h0M111.2 114.6h0M658.2 131.0h0M579.2 126.4h0M641.3 131.2h0M79.3 154.8h0M534.6 159.1h0M639.5 133.3h0M284.0 132.6h0M588.9 135.9h0M178.3 157.3h0M518.1 133.6h0M121.1 163.0h0M82.7 160.7h0M752.7 147.5h0M208.8 113.7h0M290.3 154.0h0M160.8 165.2h0M612.9 157.5h0M134.8 150.4h0M93.8 155.1h0M508.8 153.3h0M272.0 147.5h0M269.6 137.5h0M155.7 112.0h0M525.3 131.3h0M625.0 134.0h0M233.0 122.7h0M98.5 127.8h0M163.5 121.4h0M539.4 146.4h0M503.8 108.1h0M520.4 129.0h0M118.7 152.9h0M163.8 155.1h0M172.8 113.8h0M488.9 144.0h0M121.8 166.8h0M240.4 127.5h0M211.5 143.0h0M132.8 147.8h0M172.1 150.1h0M593.4 143.4h0M251.7 125.2h0M568.7 132.0h0M247.4 173.9h0M117.5 160.2h0M582.8 150.7h0M96.9 135.0h0M526.8 169.0h0M600.1 141.1h0M89.7 137.5h0M501.5 130.7h0M125.4 192.1h0M673.8 143.8h0M600.8 129.5h0M242.1 145.0h0M568.0 150.8h0M85.0 125.0h0M617.3 150.9h0M232.2 168.5h0M485.4 150.2h0M575.6 143.8h0M540.1 121.0h0M190.7 114.3h0M554.3 192.0h0M158.3 121.6h0M116.7 135.1h0M124.0 162.6h0M518.1 158.9h0M194.3 128.0h0M96.5 150.0h0M166.9 130.5h0M565.5 155.8h0M276.9 144.7h0M705.5 134.2h0M241.5 129.9h0M632.4 131.3h0M253.2 144.7h0M157.6 131.5h0M90.7 150.1h0M618.2 125.5h0M542.5 180.9h0M676.8 138.8h0M179.1 132.8h0M525.0 126.3h0M604.7 133.7h0M618.0 141.5h0M181.2 167.7h0M539.2 161.3h0M104.1 163.1h0M675.7 135.9h0M104.2 132.8h0M164.0 134.8h0M51.3 159.0h0M617.4 131.2h0M291.0 125.3h0M609.1 141.1h0M111.4 120.0h0M222.7 152.3h0M152.4 130.9h0M102.6 114.8h0M128.8 130.1h0M76.6 150.2h0M143.8 183.1h0M526.5 123.2h0M177.0 147.4h0M164.9 147.9h0M118.1 163.1h0M288.5 140.0h0M547.0 82.5h0M510.8 166.2h0M608.8 131.2h0M572.3 128.8h0M544.0 128.6h0M130.2 120.5h0M278.3 142.6h0M113.1 162.8h0M102.3 174.2h0M237.9 127.7h0M141.9 191.3h0M185.4 133.2h0M220.3 142.3h0M116.9 165.3h0M568.3 112.9h0M593.1 112.1h0M98.5 112.1h0M70.4 140.3h0M139.2 127.4h0M538.0 139.0h0M672.4 131.4h0M623.0 123.6h0M705.3 137.3h0M262.5 150.2h0M578.2 128.8h0M273.5 135.6h0M183.5 154.8h0M501.5 166.3h0M527.8 121.4h0M117.0 105.9h0M612.3 161.9h0M618.7 148.9h0M183.4 118.1h0M92.7 147.8h0M529.7 128.6h0M96.5 170.2h0M189.4 149.9h0M118.4 122.6h0M552.0 133.7h0M679.8 133.5h0M82.5 130.4h0"/></defs>
<use href="#p11" class="go"/><use href="#p11" class="gi"/>
<defs><path id="p12" d="M105.8 120.3h0M101.1 167.7h0M584.4 130.7h0M554.1 115.5h0M522.2 166.0h0M114.4 112.7h0M189.5 98.2h0M152.7 154.2h0M121.7 122.3h0M152.6 122.0h0M141.5 116.8h0M174.0 120.9h0M560.9 148.7h0M548.4 151.2h0M180.4 102.5h0M80.9 122.8h0M123.2 139.8h0M540.2 161.6h0M147.3 94.2h0M642.2 138.5h0M158.5 176.5h0M92.4 128.0h0M687.7 136.5h0M115.3 147.3h0M218.7 145.1h0M233.1 140.1h0M487.6 151.3h0M626.1 159.1h0M667.2 131.1h0M88.3 159.8h0M200.1 137.5h0M701.6 141.4h0M238.8 169.7h0M108.0 145.6h0M519.0 171.0h0M491.9 166.3h0M559.6 154.7h0M598.4 133.7h0M646.4 150.9h0M573.9 156.6h0M522.3 115.7h0M672.3 141.5h0M76.5 140.3h0M680.4 143.9h0M584.5 148.3h0M105.2 173.5h0M211.6 155.9h0M67.1 136.3h0M497.4 153.8h0M647.3 141.8h0M180.7 133.8h0M492.0 119.6h0M675.9 145.8h0M607.4 143.8h0M605.8 130.8h0M240.0 132.8h0M548.2 136.5h0M153.7 142.7h0M213.2 150.2h0M480.8 145.6h0M51.3 135.0h0M568.2 130.9h0M199.0 158.7h0M86.4 157.8h0M250.7 144.8h0M585.4 171.6h0M105.1 170.6h0M230.6 145.4h0M497.2 138.7h0M643.3 134.1h0M100.2 179.7h0M651.8 142.8h0M510.3 155.9h0M111.3 165.1h0M611.8 135.6h0M545.5 131.2h0M500.2 133.5h0M167.6 147.8h0M125.8 111.9h0M272.3 153.0h0M548.6 123.7h0M578.2 144.1h0M223.4 143.1h0M199.9 152.9h0M213.8 142.9h0M641.2 146.5h0M136.9 149.9h0M79.7 124.9h0M193.9 152.5h0M664.3 146.3h0M554.5 109.1h0M689.1 138.2h0M118.7 96.8h0M105.7 144.7h0M498.8 135.8h0M568.4 146.3h0M529.3 96.1h0M507.3 160.9h0M645.1 133.5h0M229.8 140.2h0M601.7 158.5h0M226.2 148.0h0M540.2 181.2h0M537.0 180.2h0M179.5 125.3h0M671.2 134.0h0M124.1 137.7h0M300.9 141.4h0M154.8 124.7h0M114.2 114.6h0M490.0 154.8h0M238.7 144.7h0M497.6 128.8h0M221.5 140.1h0M212.8 139.7h0M222.5 127.2h0M510.7 170.9h0M267.7 145.3h0M173.7 143.0h0M79.2 140.3h0M733.0 148.2h0M545.9 109.9h0M457.0 125.8h0M568.7 158.1h0M619.1 143.2h0M545.5 136.6h0M642.7 114.2h0M568.1 125.3h0M51.1 163.8h0M579.6 120.3h0M733.8 138.0h0M193.6 114.1h0M286.5 143.1h0M457.1 121.0h0M207.1 140.7h0M198.6 140.2h0M157.9 155.1h0M570.9 118.5h0M675.8 134.5h0M288.0 134.7h0M630.4 148.6h0M518.8 121.3h0M535.3 143.8h0M215.6 171.9h0M538.4 153.8h0M507.9 156.4h0M204.8 122.2h0M219.7 195.5h0M649.7 136.1h0M171.8 120.9h0M200.1 184.3h0M504.6 135.9h0M480.5 155.1h0M554.6 113.3h0M502.7 163.5h0M582.2 161.4h0M702.2 150.4h0M683.4 138.4h0M571.8 151.4h0M253.1 163.3h0M137.6 160.0h0M304.8 144.7h0M642.7 133.2h0M542.3 140.7h0M590.3 138.9h0M202.3 148.0h0M95.0 142.4h0M546.2 148.9h0M204.4 145.0h0M547.9 146.6h0M601.6 135.0h0M229.2 132.8h0M647.3 138.5h0M599.8 146.1h0M113.8 150.2h0M524.5 120.9h0M198.6 145.1h0M718.3 148.7h0M88.5 129.7h0M203.9 134.9h0M554.9 148.9h0M202.2 171.3h0M663.8 135.7h0M146.6 87.9h0M103.8 117.9h0M299.0 135.6h0M263.7 137.7h0M555.0 105.9h0M169.2 135.5h0M207.1 134.7h0M333.8 136.3h0M218.4 130.1h0M536.6 125.8h0M240.7 142.4h0M578.9 148.7h0M132.8 187.5h0M98.7 167.5h0M593.3 138.7h0M637.6 130.8h0M213.0 173.7h0M151.7 145.1h0"/></defs>
<use href="#p12" class="go"/><use href="#p12" class="gi"/>
<defs><path id="p13" d="M99.9 149.9h0M666.7 136.0h0M222.6 160.1h0M199.8 131.0h0M205.5 143.0h0M676.3 156.2h0M516.3 125.6h0M517.4 128.4h0M149.3 155.0h0M323.6 135.6h0M490.3 146.2h0M100.7 127.2h0M457.0 123.4h0M139.0 96.5h0M189.7 140.4h0M152.1 140.0h0M292.9 142.6h0M135.5 137.2h0M658.2 145.7h0M530.1 112.0h0M217.4 147.3h0M145.0 157.8h0M202.0 174.4h0M498.9 112.6h0M130.0 132.1h0M492.0 148.7h0M189.0 152.8h0M548.3 183.7h0M183.3 153.7h0M201.8 148.4h0M278.5 137.2h0M94.4 110.4h0M210.3 158.9h0M516.1 170.9h0M552.7 143.2h0M540.6 153.5h0M120.4 159.8h0M171.5 158.2h0M110.3 122.6h0M490.0 131.2h0M688.8 143.8h0M690.2 130.8h0M284.0 152.9h0M276.1 150.1h0M586.8 113.7h0M584.7 143.8h0M189.3 150.1h0M484.1 145.9h0M128.4 126.5h0M166.8 134.1h0M146.2 135.6h0M272.2 127.4h0M491.8 143.5h0M279.7 152.4h0M620.2 128.7h0M587.2 126.8h0M109.1 115.3h0M107.7 118.5h0M603.0 146.6h0M702.4 128.6h0M75.3 142.6h0M234.7 127.4h0M197.0 132.7h0M81.0 132.2h0M537.9 118.9h0M739.6 144.8h0M233.2 128.9h0M113.8 108.3h0M537.8 195.9h0M169.2 130.4h0M548.8 166.7h0M658.7 150.8h0M505.6 143.5h0M535.0 190.4h0M700.3 143.5h0M167.2 179.7h0M199.4 168.6h0M125.4 135.5h0M491.1 138.6h0M524.3 170.9h0M487.7 140.9h0M149.8 176.3h0M564.5 153.5h0M510.8 126.5h0M626.5 146.0h0M666.6 139.6h0M127.0 152.6h0M85.0 135.5h0M100.7 153.1h0M531.7 153.2h0M244.8 140.0h0M97.0 107.0h0M563.9 148.7h0M542.6 174.5h0M117.2 129.7h0M577.1 101.8h0M519.0 111.5h0M607.5 138.3h0M174.8 177.8h0M679.0 136.6h0M80.4 157.2h0M551.4 156.0h0M645.3 149.1h0M616.1 148.9h0M92.4 133.0h0M665.8 138.4h0M524.4 141.5h0M155.3 152.2h0M87.9 150.4h0M169.3 140.2h0M532.8 114.7h0M632.7 128.6h0M125.5 155.1h0M589.6 116.2h0M683.1 143.6h0M478.4 152.6h0M92.8 122.1h0M526.5 118.7h0M119.7 149.8h0M585.6 114.9h0M674.4 133.9h0M126.0 149.8h0M174.6 175.5h0M180.6 149.3h0M201.7 154.6h0M610.4 122.5h0M534.1 130.6h0M539.4 131.4h0M541.3 133.3h0M154.9 140.5h0M530.0 175.6h0M541.1 148.7h0M131.6 125.1h0M594.6 151.5h0M141.1 107.9h0M514.7 148.8h0M222.6 132.6h0M637.3 149.0h0M648.9 130.5h0M620.7 136.2h0M664.5 141.2h0M646.3 135.7h0M250.9 120.2h0M163.8 134.7h0M89.7 162.9h0M598.5 139.1h0M559.9 151.5h0M590.4 153.6h0M155.1 155.5h0M144.2 132.8h0M513.5 111.0h0M112.5 157.4h0M554.1 145.7h0M591.4 151.4h0M707.9 141.3h0M178.0 163.3h0M152.3 99.2h0M113.0 132.8h0M588.6 151.1h0M611.4 130.7h0M538.3 111.9h0M133.2 192.6h0M166.9 177.2h0M241.6 171.4h0M106.6 147.3h0M79.2 135.2h0M246.7 118.8h0M51.1 147.0h0M181.0 121.9h0M533.5 120.7h0M195.9 130.2h0M113.0 142.5h0M615.7 130.9h0M487.5 123.9h0M95.6 157.9h0M225.9 152.4h0M662.8 154.2h0M703.7 135.3h0M122.3 96.1h0M494.6 126.6h0M550.7 131.5h0M693.2 151.7h0M599.2 153.3h0M579.3 176.1h0M598.4 126.1h0M135.6 127.8h0M149.8 188.9h0M125.8 198.9h0M521.8 104.9h0M555.5 133.7h0M740.7 139.8h0M121.4 106.3h0M100.1 110.0h0M478.5 143.3h0M264.8 155.1h0M215.5 139.9h0M258.6 124.4h0M205.2 124.3h0M89.1 142.7h0M518.7 136.2h0M568.5 110.3h0"/></defs>
<use href="#p13" class="go"/><use href="#p13" class="gi"/>
<defs><path id="p14" d="M215.8 135.0h0M580.0 136.6h0M202.5 127.3h0M523.2 168.6h0M514.7 154.1h0M571.6 201.6h0M170.9 137.4h0M282.3 135.5h0M255.2 132.4h0M558.4 129.0h0M500.0 164.3h0M597.8 141.6h0M645.4 143.3h0M230.1 127.2h0M172.0 145.0h0M236.2 145.4h0M589.2 141.4h0M202.9 152.9h0M716.2 153.3h0M575.4 128.5h0M546.9 101.9h0M601.4 164.9h0M541.0 123.8h0M528.9 148.5h0M669.6 141.3h0M565.2 192.0h0M507.7 126.0h0M533.6 161.4h0M523.8 143.8h0M103.8 168.2h0M153.2 125.3h0M90.6 170.1h0M211.1 165.0h0M160.5 105.5h0M239.1 150.6h0M558.0 182.5h0M246.5 132.9h0M666.8 140.8h0M677.4 143.4h0M562.6 135.9h0M530.2 182.2h0M113.5 114.7h0M220.3 133.1h0M179.2 138.1h0M135.0 155.1h0M651.9 123.4h0M159.4 147.6h0M633.3 138.8h0M565.0 196.8h0M164.2 124.9h0M98.6 153.2h0M571.7 146.2h0M612.0 165.0h0M144.6 169.9h0M514.4 158.8h0M159.3 152.9h0M457.2 135.4h0M552.3 112.8h0M285.3 129.7h0M591.2 145.7h0M246.1 156.7h0M94.1 150.5h0M135.6 152.4h0M656.7 143.8h0M270.7 127.4h0M201.6 135.2h0M582.4 103.3h0M233.2 145.6h0M162.5 152.4h0M496.3 146.1h0M84.2 127.1h0M664.5 151.0h0M584.2 120.2h0M161.3 184.0h0M535.3 148.9h0M87.8 135.3h0M523.6 128.8h0M587.0 122.6h0M526.4 107.3h0M115.7 142.3h0M280.8 152.7h0M294.9 145.0h0M554.3 192.6h0M496.8 171.3h0M693.9 136.1h0M160.7 134.7h0M686.1 138.3h0M219.0 125.4h0M678.4 130.8h0M573.6 173.2h0M572.5 144.0h0M584.8 134.1h0M279.8 149.7h0M227.0 129.7h0M104.2 122.1h0M51.4 137.4h0M595.6 148.2h0M78.4 152.6h0M516.5 155.8h0M596.5 134.5h0M566.7 129.1h0M666.0 148.6h0M628.9 136.5h0M153.4 147.3h0M584.5 138.5h0M521.6 141.2h0M119.7 124.8h0M528.2 166.4h0M581.2 139.1h0M144.3 137.3h0M556.4 102.4h0M248.9 125.0h0M181.0 90.0h0M593.3 153.9h0M526.3 153.8h0M131.9 149.9h0M457.3 159.4h0M179.7 148.0h0M565.7 141.6h0M237.9 143.0h0M681.3 151.1h0M499.2 164.0h0M169.0 150.8h0M571.3 131.5h0M543.5 134.1h0M172.2 152.0h0M589.9 119.3h0M729.3 148.5h0M535.5 160.2h0M113.1 117.4h0M637.9 135.7h0M538.3 148.2h0M88.5 165.4h0M269.8 147.6h0M551.6 177.5h0M285.6 146.6h0M718.3 131.7h0M150.7 163.6h0M223.9 115.6h0M610.8 133.8h0M617.7 178.1h0M235.4 129.4h0M645.4 133.4h0M515.2 134.0h0M519.0 161.1h0M97.0 120.0h0M293.6 145.2h0M107.6 183.6h0M108.2 149.8h0M157.9 149.8h0M614.9 136.8h0M468.8 143.1h0M161.8 142.9h0M69.4 137.2h0M190.8 147.9h0M152.9 157.5h0M538.3 143.8h0M529.6 178.6h0M747.4 141.9h0M606.4 126.5h0M539.4 151.4h0M548.1 179.5h0M606.4 117.4h0M631.6 136.8h0M525.9 149.1h0M51.1 149.4h0M511.7 153.2h0M191.1 152.5h0M210.0 111.8h0M62.5 142.2h0M99.8 130.0h0M109.8 148.2h0M613.2 122.5h0M578.2 133.9h0M115.9 152.2h0M275.0 147.3h0M522.0 112.6h0M650.8 143.3h0M106.6 97.9h0M263.9 127.7h0M510.1 135.8h0M628.8 151.2h0M221.1 135.3h0M511.6 108.0h0M685.6 143.8h0M159.4 142.7h0M551.0 119.2h0M646.3 146.6h0M457.1 113.8h0M115.8 88.5h0M537.4 124.7h0M613.8 153.6h0M259.5 130.0h0M134.8 145.0h0M501.1 110.3h0M188.6 152.4h0M538.0 106.4h0M506.5 153.7h0M85.2 130.4h0M504.2 131.1h0M136.3 132.7h0"/></defs>
<use href="#p14" class="go"/><use href="#p14" class="gi"/>
<defs><path id="p15" d="M183.2 110.6h0M571.1 155.9h0M81.2 122.6h0M158.0 208.9h0M168.9 133.5h0M542.9 187.0h0M717.6 131.5h0M224.2 140.5h0M92.8 112.8h0M580.5 146.7h0M188.9 125.5h0M142.8 145.0h0M610.2 117.2h0M108.2 130.4h0M507.5 116.0h0M527.5 126.0h0M547.0 143.7h0M507.9 110.9h0M91.4 125.4h0M265.1 149.9h0M581.5 134.1h0M619.3 134.0h0M288.6 145.7h0M494.3 148.8h0M228.1 131.1h0M596.2 154.0h0M147.9 158.0h0M98.2 117.8h0M157.6 140.2h0M577.5 131.2h0M152.1 111.7h0M491.6 133.9h0M693.2 141.3h0M255.4 160.9h0M119.6 115.6h0M135.3 100.1h0M99.2 125.4h0M558.5 153.9h0M136.9 135.2h0M547.9 126.5h0M75.1 147.6h0M510.5 141.6h0M74.9 132.5h0M142.2 129.5h0M639.8 172.2h0M643.2 127.9h0M548.1 141.6h0M191.1 132.5h0M546.6 158.3h0M549.0 129.5h0M579.0 109.7h0M289.4 143.1h0M595.9 158.2h0M217.6 132.9h0M149.2 150.3h0M561.5 144.1h0M544.2 138.3h0M114.5 125.5h0M517.6 143.3h0M122.3 123.0h0M541.2 158.3h0M111.2 183.7h0M518.0 123.9h0M252.1 143.1h0M677.3 129.1h0M239.0 115.1h0M559.2 131.1h0M163.1 150.0h0M222.5 147.9h0M286.6 132.6h0M483.1 147.9h0M92.5 152.3h0M104.4 147.6h0M172.1 110.2h0M527.7 151.1h0M284.1 147.5h0M581.7 153.8h0M224.1 149.7h0M246.1 162.7h0M273.2 119.0h0M251.0 129.9h0M127.6 161.6h0M113.5 192.9h0M533.8 141.0h0M643.3 151.1h0M88.0 145.3h0M114.5 105.8h0M585.0 168.8h0M83.8 142.5h0M270.6 130.4h0M716.4 134.2h0M202.4 132.5h0M483.1 138.1h0M182.1 152.9h0M534.5 172.0h0M720.8 145.2h0M80.9 161.0h0M51.4 130.2h0M514.8 113.4h0M457.3 166.6h0M485.4 135.8h0M691.2 148.4h0M96.3 165.1h0M521.0 148.9h0M522.0 120.9h0M199.9 165.3h0M286.4 125.2h0M195.8 150.3h0M162.3 147.2h0M537.7 163.4h0M115.2 127.9h0M740.8 143.3h0M102.2 135.5h0M610.2 126.5h0M526.2 166.0h0M533.3 151.2h0M108.0 139.8h0M240.8 165.2h0M140.5 144.9h0M151.5 149.7h0M210.1 109.4h0M673.3 146.4h0M161.3 108.5h0M190.9 118.4h0M523.4 163.3h0M86.6 117.3h0M500.3 148.8h0M153.5 102.7h0M102.5 119.6h0M105.1 135.2h0M623.7 160.4h0M456.9 118.6h0M130.7 99.0h0M231.2 138.1h0M594.8 135.7h0M128.8 125.5h0M507.3 121.1h0M489.6 121.7h0M256.5 149.7h0M634.9 130.9h0M91.3 160.3h0M660.8 146.6h0M576.4 129.3h0M541.2 168.1h0M211.8 137.3h0M266.6 138.1h0M715.4 144.8h0M529.4 104.1h0M147.5 112.4h0M525.9 159.0h0M647.9 143.6h0M290.0 133.0h0M500.0 129.1h0M115.9 137.4h0M546.0 186.3h0M600.7 131.2h0M516.6 140.7h0M259.9 124.8h0M105.8 115.0h0M585.9 140.7h0M201.4 145.0h0M101.6 102.4h0M149.3 81.7h0M693.6 130.8h0M654.1 148.5h0M552.7 148.7h0M252.1 154.8h0M79.7 130.4h0M561.9 124.9h0M695.7 151.0h0M740.6 140.0h0M101.4 112.3h0M154.9 93.1h0M123.4 129.8h0M457.1 133.0h0M671.4 138.8h0M157.7 186.0h0M604.8 149.1h0M481.8 145.7h0M637.5 133.0h0M185.6 137.4h0M96.5 155.7h0M175.1 145.0h0M645.6 152.4h0M125.2 121.8h0M586.1 145.8h0M197.5 171.4h0M227.3 149.7h0M114.0 160.4h0M69.1 147.4h0M500.4 139.1h0M542.0 135.9h0M82.7 145.3h0M90.6 120.5h0M545.1 150.8h0M691.2 133.4h0M495.5 151.5h0M74.7 137.7h0M623.9 147.9h0M247.5 153.5h0M513.4 166.0h0"/></defs>
<use href="#p15" class="go"/><use href="#p15" class="gi"/>
<defs><path id="p16" d="M553.6 131.5h0M521.9 151.7h0M222.1 117.3h0M684.4 135.9h0M83.5 122.2h0M160.9 102.6h0M143.4 149.9h0M141.9 157.6h0M665.7 133.2h0M570.7 201.4h0M526.6 133.5h0M581.2 121.9h0M222.8 124.3h0M147.8 133.0h0M710.0 132.8h0M116.6 189.3h0M576.7 136.0h0M558.6 148.3h0M106.5 138.0h0M214.0 153.0h0M557.9 166.5h0M482.7 128.8h0M174.7 180.8h0M540.4 111.3h0M130.5 147.3h0M508.7 168.8h0M502.7 143.9h0M554.4 126.8h0M675.3 131.6h0M125.7 159.7h0M687.6 131.1h0M119.2 119.4h0M691.9 143.8h0M237.1 137.6h0M105.6 155.0h0M547.0 133.7h0M93.9 130.6h0M291.2 140.0h0M523.4 158.6h0M730.7 138.3h0M610.7 143.7h0M185.2 133.1h0M573.8 154.6h0M582.5 141.1h0M512.3 133.1h0M530.7 146.2h0M111.2 178.0h0M102.6 111.9h0M218.7 131.3h0M677.3 134.5h0M231.6 147.3h0M134.1 134.9h0M179.6 152.2h0M637.9 146.4h0M534.0 146.6h0M153.0 201.4h0M137.4 145.6h0M218.6 135.6h0M598.8 133.3h0M130.2 122.4h0M108.7 160.6h0M234.9 137.3h0M255.6 178.8h0M653.8 153.4h0M511.7 113.7h0M70.4 145.6h0M652.3 151.2h0M246.6 142.9h0M546.8 125.1h0M565.3 191.5h0M514.8 109.0h0M492.0 154.2h0M92.7 117.8h0M545.7 161.3h0M231.4 152.5h0M642.3 130.6h0M621.6 153.4h0M90.1 170.4h0M594.7 130.8h0M645.3 138.2h0M152.5 182.8h0M561.8 171.9h0M182.5 143.0h0M529.9 165.2h0M626.7 155.8h0M139.4 99.2h0M71.7 151.6h0M626.5 131.5h0M133.8 111.7h0M200.8 129.7h0M152.7 109.0h0M78.6 158.7h0M509.0 178.5h0M264.5 130.3h0M527.8 146.5h0M555.6 144.1h0M117.2 191.4h0M153.3 186.7h0M494.0 138.7h0M526.5 138.8h0M101.2 172.7h0M212.7 111.8h0M555.4 153.6h0M510.4 176.5h0M722.0 134.3h0M523.8 133.9h0M739.0 144.8h0M244.8 150.6h0M121.0 128.0h0M233.3 153.6h0M722.2 133.6h0M77.9 157.8h0M686.1 133.5h0M190.6 152.3h0M520.4 143.2h0M457.2 128.2h0M127.7 157.7h0M614.7 141.1h0M274.3 126.6h0M169.4 145.4h0M111.0 155.7h0M259.7 155.2h0M141.8 147.3h0M118.7 118.0h0M178.0 125.2h0M114.3 162.1h0M581.6 176.5h0M635.3 127.0h0M521.7 115.2h0M590.4 109.9h0M293.9 134.8h0M227.7 139.9h0M650.7 133.2h0M521.7 146.3h0M158.5 117.7h0M95.7 172.5h0M710.0 151.0h0M176.3 137.9h0M457.1 218.3h0M79.3 150.6h0M570.0 148.7h0M110.9 145.3h0M255.9 145.0h0M93.8 165.4h0M665.5 143.8h0M669.6 130.8h0M678.1 140.8h0M545.4 125.9h0M570.3 105.3h0M136.9 87.7h0M182.8 150.2h0M230.0 125.2h0M90.7 154.9h0M279.4 130.6h0M739.0 138.2h0M573.1 133.2h0M282.9 130.1h0M520.4 153.7h0M210.6 124.6h0M741.8 145.5h0M169.0 158.6h0M51.3 168.6h0M523.1 118.6h0M242.2 149.9h0M270.5 150.7h0M143.2 129.7h0M176.1 142.4h0M266.8 142.6h0M656.9 134.1h0M494.6 159.4h0M552.1 198.2h0M175.1 150.6h0M269.3 127.7h0M114.2 140.1h0M207.5 119.9h0M651.1 138.3h0M118.2 157.5h0M552.3 139.1h0M236.2 157.8h0M282.8 140.3h0M642.2 148.6h0M233.9 162.4h0M646.6 155.4h0M246.1 138.1h0M138.6 152.3h0M292.9 153.3h0M179.2 95.1h0M616.1 155.7h0M701.8 149.2h0M177.9 140.1h0M612.4 118.5h0M175.0 125.8h0M107.1 127.8h0M72.0 132.8h0M150.1 152.7h0M559.5 156.2h0M282.2 150.2h0M127.0 132.6h0M521.5 175.5h0M606.1 135.7h0"/></defs>
<use href="#p16" class="go"/><use href="#p16" class="gi"/>
<defs><path id="p17" d="M153.3 103.3h0M542.6 177.3h0M131.5 107.7h0M167.9 111.0h0M188.7 168.9h0M555.3 123.1h0M552.9 174.7h0M186.2 151.4h0M544.8 161.4h0M145.6 126.3h0M221.7 178.1h0M574.1 131.1h0M563.9 187.2h0M184.6 128.6h0M180.3 162.4h0M585.4 128.5h0M186.6 170.5h0M583.2 122.7h0M538.4 176.4h0M602.8 130.5h0M226.6 121.9h0M159.2 105.3h0M125.8 189.6h0M195.4 118.2h0M164.7 130.7h0M232.0 115.2h0M187.2 232.0h0M202.3 158.1h0M513.3 114.0h0M161.9 103.3h0M531.6 171.5h0M158.9 109.2h0M612.2 134.0h0M133.2 176.5h0M219.1 164.2h0M540.9 115.8h0M205.9 124.1h0M540.4 100.6h0M154.2 107.0h0M552.8 116.9h0M125.7 176.2h0M548.2 178.6h0M592.7 164.9h0M540.1 186.4h0M153.5 198.9h0M136.0 185.7h0M149.2 99.9h0M457.0 189.2h0M536.0 181.7h0M218.5 112.6h0M138.8 164.4h0M225.0 182.7h0M513.9 177.1h0M457.3 68.7h0M190.0 120.7h0M207.2 130.4h0M114.1 184.3h0M187.7 236.8h0M51.3 264.6h0M155.9 106.3h0M134.5 84.9h0M457.3 76.7h0M260.6 157.2h0M139.4 177.5h0M528.5 81.9h0M593.0 117.8h0M110.0 118.6h0M613.7 137.0h0M596.0 185.0h0M578.0 168.2h0M166.2 87.7h0M142.9 163.1h0M557.9 165.6h0M246.0 126.5h0M559.3 182.3h0M128.4 108.6h0M51.4 210.4h0M265.6 128.0h0M561.1 100.6h0M171.1 137.1h0M548.3 163.3h0M126.3 173.4h0M184.5 124.3h0M568.6 118.5h0M545.7 116.0h0M648.6 170.0h0M216.2 185.3h0M191.0 232.0h0M657.4 128.4h0M630.0 157.4h0M147.3 174.6h0M99.8 172.9h0M566.1 122.5h0M125.8 191.9h0M140.5 113.3h0M152.8 170.3h0M204.4 127.1h0M564.1 171.2h0M588.6 161.3h0M530.6 114.3h0M51.3 99.8h0M457.0 79.9h0M137.7 94.5h0M563.9 221.3h0M51.1 80.6h0M587.0 194.5h0M613.7 152.0h0M135.0 210.9h0M253.9 163.4h0M230.8 160.8h0M158.7 122.6h0M187.2 154.9h0M151.5 219.3h0M248.9 112.5h0M457.0 103.9h0M581.4 160.1h0M577.7 111.0h0M527.7 83.2h0M139.0 162.3h0M142.0 179.0h0M206.3 105.8h0M151.5 128.7h0M131.6 163.0h0M194.3 163.5h0M102.6 183.1h0M176.5 105.0h0M135.9 164.8h0M147.9 130.0h0"/></defs>
<use href="#p17" class="ro"/><use href="#p17" class="ri"/>
<defs><path id="p18" d="M142.1 165.9h0M535.1 106.9h0M528.8 174.8h0M666.1 172.5h0M170.3 117.6h0M114.9 111.0h0M513.5 98.0h0M147.1 211.6h0M597.7 158.5h0M132.6 122.9h0M134.2 200.7h0M206.9 104.2h0M159.5 99.7h0M670.5 148.8h0M610.4 134.1h0M110.0 115.9h0M162.3 96.3h0M544.2 98.4h0M550.5 166.2h0M177.8 213.8h0M169.4 152.7h0M182.9 167.3h0M594.7 170.7h0M51.3 85.4h0M176.0 158.7h0M114.8 190.2h0M114.1 187.9h0M142.0 102.1h0M641.9 150.9h0M556.4 177.6h0M231.4 168.0h0M638.4 123.8h0M700.0 147.7h0M645.8 155.5h0M114.7 165.3h0M209.1 151.7h0M192.0 167.3h0M252.3 201.5h0M164.7 178.9h0M183.2 162.7h0M187.7 129.7h0M220.2 129.0h0M178.9 209.4h0M226.0 170.8h0M574.8 157.6h0M641.7 157.6h0M583.3 133.2h0M535.3 99.6h0M153.6 122.0h0M117.4 191.2h0M194.0 152.7h0M217.8 159.0h0M198.6 221.4h0M457.0 210.6h0M633.9 167.2h0M202.3 161.1h0M638.4 158.4h0M631.5 149.8h0M100.6 175.7h0M574.7 127.7h0M198.9 117.9h0M197.0 151.5h0M238.2 189.7h0M139.6 170.9h0M143.6 108.8h0M613.0 130.3h0M538.7 189.6h0M178.0 209.0h0M596.5 125.0h0M530.3 124.0h0M164.2 169.9h0M51.1 215.2h0M183.9 169.6h0M104.0 109.0h0M614.0 182.7h0M560.9 174.4h0M199.4 196.9h0M571.7 184.1h0M204.1 218.2h0M197.1 160.3h0M131.6 172.1h0M165.8 118.5h0M524.4 199.8h0M117.4 162.3h0M155.9 216.0h0M603.6 181.7h0M550.1 99.1h0M602.3 161.5h0M585.5 160.0h0M605.4 165.6h0M51.2 183.2h0M117.9 104.2h0M183.7 154.1h0M134.8 123.2h0M178.9 153.8h0M636.2 166.6h0M670.0 149.0h0M157.5 103.2h0M194.7 176.0h0M216.7 152.2h0M251.0 124.5h0M181.8 167.7h0M613.3 120.8h0M51.2 172.0h0M617.4 175.5h0M610.7 150.7h0M117.6 114.9h0M535.4 85.8h0M169.8 98.5h0M158.3 170.5h0M137.6 114.2h0M535.7 188.2h0M587.8 113.1h0M186.9 136.9h0M201.0 181.0h0M134.2 187.9h0M51.3 197.6h0M145.7 176.4h0M658.4 149.9h0M187.1 165.6h0M126.4 115.0h0M210.3 129.4h0M581.0 166.9h0M615.0 120.3h0M589.1 157.4h0M152.0 115.5h0M616.5 133.1h0M632.9 149.0h0"/></defs>
<use href="#p18" class="ro"/><use href="#p18" class="ri"/>
<defs><path id="p19" d="M558.2 123.4h0M108.0 170.8h0M552.1 197.5h0M205.1 187.7h0M254.0 133.1h0M258.3 166.9h0M580.0 150.9h0M588.7 129.4h0M204.1 118.2h0M233.7 162.1h0M187.1 108.7h0M154.7 128.8h0M150.8 110.1h0M114.4 178.1h0M669.3 137.5h0M223.6 120.1h0M629.7 132.1h0M51.1 104.6h0M592.6 161.2h0M517.6 176.2h0M622.2 120.9h0M126.4 89.3h0M222.9 67.4h0M137.3 117.4h0M552.6 177.5h0M456.9 212.4h0M133.0 185.7h0M657.3 131.0h0M231.7 127.0h0M161.8 193.1h0M178.6 120.9h0M172.6 166.7h0M605.2 119.9h0M608.2 155.1h0M200.0 165.8h0M549.6 117.4h0M195.6 127.5h0M131.7 177.7h0M223.9 225.8h0M144.3 173.1h0M206.3 226.9h0M677.0 135.0h0M51.1 75.8h0M242.6 120.8h0M131.9 104.6h0M131.8 81.7h0M128.2 164.2h0M236.1 158.6h0M184.5 108.4h0M182.3 109.3h0M150.4 103.3h0M559.2 192.2h0M565.1 125.6h0M137.0 125.4h0M145.6 97.8h0M234.1 120.2h0M641.3 159.8h0M165.3 127.5h0M150.2 156.4h0M230.8 235.7h0M220.5 181.8h0M235.5 164.3h0M188.0 105.6h0M525.6 167.7h0M457.0 105.5h0M621.2 168.0h0M214.2 164.2h0M545.9 128.0h0M520.4 171.1h0M584.3 151.3h0M696.8 146.6h0M192.4 158.5h0M577.8 124.4h0M152.8 154.5h0M51.5 213.6h0M51.2 239.0h0M529.0 183.9h0M595.1 165.8h0M136.5 177.2h0M694.2 125.1h0M181.5 177.5h0M567.9 126.2h0M131.2 186.9h0M623.6 134.0h0M150.8 173.6h0M153.6 164.3h0M608.5 165.0h0M141.2 155.8h0M676.0 148.2h0M209.6 218.2h0M144.3 154.9h0M140.1 106.2h0M211.8 168.8h0M558.1 169.4h0M571.5 112.3h0M595.8 117.8h0M196.4 88.7h0M457.1 184.4h0M674.0 146.5h0M125.2 167.3h0M545.3 220.2h0M139.8 122.2h0M145.9 95.6h0M145.6 130.1h0M596.6 152.3h0M522.6 170.4h0M108.8 166.8h0M147.9 172.1h0M222.3 168.7h0M195.2 168.6h0M644.3 156.1h0M142.0 74.3h0M131.7 180.7h0M229.3 193.2h0M572.1 153.2h0M108.1 180.6h0M546.6 119.5h0M193.6 222.5h0M587.0 169.7h0M541.8 172.9h0M619.0 94.2h0M97.4 173.6h0M621.2 134.3h0M457.0 73.5h0M149.1 120.5h0M118.2 117.7h0M574.6 172.9h0M189.6 175.8h0"/></defs>
<use href="#p19" class="ro"/><use href="#p19" class="ri"/>
<defs><path id="p20" d="M160.2 119.4h0M51.5 98.2h0M553.4 69.6h0M195.0 172.8h0M554.9 129.2h0M237.8 128.8h0M582.7 130.3h0M155.5 197.3h0M557.7 132.3h0M110.9 189.2h0M187.3 180.8h0M535.7 93.7h0M51.2 79.0h0M457.2 70.3h0M110.4 94.0h0M229.5 119.2h0M51.2 194.4h0M595.1 154.0h0M161.3 174.3h0M514.3 188.5h0M547.3 102.9h0M226.8 110.2h0M112.8 115.1h0M547.0 95.9h0M162.5 115.4h0M520.2 177.2h0M457.1 67.1h0M573.6 114.2h0M457.1 226.4h0M577.1 133.4h0M457.3 194.0h0M248.2 159.5h0M591.6 168.1h0M457.2 224.6h0M208.7 179.8h0M188.1 123.5h0M673.7 129.5h0M616.9 168.0h0M51.2 107.8h0M260.6 174.0h0M457.2 102.3h0M117.3 185.1h0M201.1 184.8h0M170.7 113.8h0M226.0 232.9h0M537.3 166.3h0M630.2 114.0h0M544.0 129.6h0M690.0 147.3h0M611.1 157.2h0M51.5 103.0h0M213.5 155.0h0M195.9 102.8h0M122.8 182.5h0M215.7 127.8h0M236.4 152.3h0M616.4 159.2h0M555.4 172.3h0M191.9 119.2h0M191.5 173.8h0M120.8 114.9h0M51.2 220.0h0M51.3 77.4h0M671.5 157.0h0M204.1 221.4h0M147.0 184.5h0M146.1 113.8h0M128.4 74.0h0M564.0 126.7h0M115.0 196.2h0M126.4 118.1h0M179.6 109.9h0M174.1 203.7h0M139.4 96.4h0M330.3 111.8h0M122.4 179.5h0M196.9 154.5h0M180.4 155.1h0M206.2 153.6h0M176.0 164.9h0M593.9 131.0h0M647.7 152.4h0M126.2 196.4h0M584.9 105.8h0M164.7 103.3h0M571.8 163.0h0M166.7 180.7h0M551.2 85.0h0M515.3 105.3h0M642.3 163.1h0M131.0 91.1h0M571.6 121.6h0M226.3 199.2h0M122.4 198.8h0M203.6 166.7h0M199.5 162.9h0M618.9 166.7h0M635.5 133.1h0M631.7 134.3h0M51.4 224.8h0M551.4 85.4h0M627.9 157.5h0M157.0 134.1h0M541.2 113.4h0M555.4 174.7h0M574.9 186.0h0M542.0 183.0h0M548.7 127.4h0M125.5 102.3h0M525.3 189.6h0M129.4 96.9h0M520.4 173.3h0M562.2 169.8h0M573.1 156.5h0M552.2 94.5h0M214.5 174.2h0M138.6 180.3h0M589.1 170.4h0M641.1 169.3h0M162.0 223.6h0M567.1 178.7h0M698.0 148.0h0M186.1 160.8h0M215.4 131.0h0M202.7 151.9h0M457.1 222.8h0M157.1 132.1h0M262.1 160.1h0"/></defs>
<use href="#p20" class="ro"/><use href="#p20" class="ri"/>
<defs><path id="p21" d="M574.7 169.3h0M164.7 175.9h0M598.4 131.0h0M207.2 132.7h0M571.0 134.6h0M178.0 166.1h0M132.5 109.6h0M557.8 106.7h0M170.1 134.1h0M580.3 168.5h0M166.8 171.6h0M548.1 166.4h0M538.8 172.3h0M523.6 116.1h0M126.3 98.1h0M600.4 160.4h0M619.0 98.2h0M209.0 119.9h0M457.0 221.0h0M156.3 165.4h0M612.8 183.0h0M587.0 196.0h0M116.4 187.4h0M194.0 182.3h0M99.1 104.7h0M531.3 196.2h0M457.2 81.5h0M569.7 91.4h0M549.8 189.5h0M549.7 94.4h0M583.6 155.5h0M671.6 156.4h0M617.5 171.7h0M173.7 102.3h0M157.0 126.1h0M518.2 113.1h0M242.1 159.2h0M543.0 113.8h0M142.0 190.7h0M638.1 151.7h0M173.1 189.9h0M173.6 126.8h0M166.0 88.0h0M167.8 102.0h0M123.2 118.0h0M636.4 159.7h0M148.2 112.8h0M148.1 180.6h0M206.0 149.1h0M125.7 201.3h0M125.6 121.3h0M51.4 200.8h0M231.5 180.4h0M174.2 114.5h0M602.2 110.5h0M614.6 170.3h0M641.2 152.7h0M591.2 152.0h0M51.2 204.0h0M208.3 176.4h0M231.6 129.9h0M143.3 114.3h0M566.7 113.0h0M643.8 159.7h0M181.5 183.5h0M572.3 114.9h0M620.4 150.4h0M181.2 106.3h0M523.7 104.3h0M172.3 153.9h0M154.8 212.7h0M51.3 90.2h0M533.8 175.6h0M183.9 150.9h0M160.3 95.7h0M629.9 163.6h0M236.1 109.9h0M131.2 100.1h0M575.1 185.6h0M209.2 132.4h0M584.9 118.7h0M122.7 85.1h0M560.9 104.5h0M586.5 179.2h0M543.9 120.7h0M522.9 177.5h0M632.9 151.1h0M521.1 196.8h0M579.2 124.0h0M552.6 184.1h0M184.0 183.2h0M170.4 176.1h0M608.0 152.3h0M558.6 153.6h0M582.9 160.8h0M138.6 154.7h0M189.4 206.4h0M117.0 178.4h0M198.0 163.8h0M551.4 114.4h0M542.4 158.5h0M232.8 150.8h0M552.9 168.4h0M559.6 114.4h0M146.1 88.1h0M134.7 181.8h0M537.1 168.3h0M273.1 159.9h0M266.9 124.0h0M553.5 161.9h0M546.9 159.1h0M125.9 185.7h0M607.5 128.6h0M528.3 163.9h0M120.8 191.6h0M181.4 125.5h0M649.7 161.5h0M156.8 181.9h0M602.3 135.9h0M142.7 171.5h0M134.5 108.5h0M153.5 92.7h0M125.1 182.7h0M189.2 125.9h0M144.4 164.4h0M172.5 161.5h0M603.4 158.8h0M51.3 243.0h0"/></defs>
<use href="#p21" class="ro"/><use href="#p21" class="ri"/>
<defs><path id="p22" d="M457.3 92.7h0M170.0 130.3h0M51.5 208.8h0M552.6 89.2h0M552.7 157.4h0M215.7 124.1h0M586.8 153.2h0M636.6 155.8h0M211.1 182.0h0M180.2 171.4h0M617.5 163.1h0M182.6 120.3h0M522.3 174.4h0M153.9 157.5h0M135.8 182.6h0M558.9 160.3h0M185.2 121.6h0M249.6 155.3h0M540.7 119.8h0M535.1 119.7h0M51.3 221.6h0M225.0 232.4h0M126.1 180.3h0M227.4 156.0h0M555.2 126.2h0M637.7 126.3h0M148.3 153.0h0M231.7 121.2h0M158.9 157.1h0M152.8 183.1h0M223.3 132.8h0M225.6 156.8h0M457.1 192.4h0M135.0 117.0h0M559.8 97.2h0M102.8 173.4h0M250.3 168.2h0M105.3 168.3h0M533.6 122.0h0M205.2 194.9h0M251.2 131.1h0M169.6 194.1h0M178.5 161.3h0M613.9 170.7h0M114.5 105.8h0M111.5 174.1h0M51.2 178.4h0M160.8 152.4h0M180.5 211.0h0M197.5 113.2h0M179.4 107.8h0M557.0 116.5h0M100.7 178.6h0M194.1 159.3h0M114.8 121.7h0M211.6 155.7h0M140.9 131.6h0M224.0 124.1h0M197.5 201.9h0M577.5 90.4h0M580.4 162.2h0M538.1 119.9h0M597.3 107.9h0M164.7 156.7h0M209.5 164.5h0M226.0 198.7h0M134.3 165.6h0M155.3 211.8h0M634.2 160.3h0M197.7 136.9h0M123.4 120.6h0M167.7 152.0h0M151.9 106.5h0M611.7 159.2h0M589.2 166.9h0M239.2 152.9h0M570.1 173.5h0M243.2 129.7h0M159.3 198.4h0M596.8 133.2h0M618.1 131.5h0M591.5 135.0h0M457.1 208.8h0M51.3 59.5h0M457.2 94.3h0M522.4 180.5h0M160.2 103.3h0M178.5 163.0h0M216.8 168.9h0M546.0 106.0h0M158.6 211.7h0M140.2 93.1h0M531.5 163.8h0M643.8 149.8h0M163.1 122.6h0M180.6 188.1h0M231.6 148.8h0M51.3 101.4h0M566.6 119.5h0M164.5 160.6h0M226.3 126.7h0M131.7 158.3h0M632.1 165.9h0M220.3 148.6h0M124.0 205.0h0M611.3 169.4h0M203.5 111.2h0M141.6 74.4h0M648.7 161.3h0M181.0 103.8h0M602.3 116.6h0M106.0 110.5h0M556.7 158.5h0M156.7 115.8h0M51.4 181.6h0M135.8 157.0h0M162.4 210.0h0M567.5 166.9h0M139.3 183.6h0M637.6 129.3h0M695.7 161.5h0M176.0 155.0h0M589.5 176.3h0M175.9 117.7h0M170.3 181.3h0M138.5 186.6h0M159.2 166.8h0M544.4 158.7h0"/></defs>
<use href="#p22" class="ro"/><use href="#p22" class="ri"/>
<defs><path id="p23" d="M643.5 131.6h0M546.9 108.8h0M587.0 161.7h0M161.5 156.3h0M625.8 156.7h0M161.3 165.2h0M575.6 166.9h0M223.1 117.2h0M175.9 184.6h0M102.7 179.7h0M533.7 169.2h0M234.3 117.5h0M101.0 113.3h0M551.8 197.6h0M228.4 153.2h0M131.0 93.7h0M143.0 112.0h0M121.8 185.7h0M256.5 163.4h0M224.7 180.1h0M520.3 183.9h0M134.6 194.6h0M551.4 78.1h0M150.6 163.1h0M129.3 92.8h0M245.0 157.1h0M531.6 184.3h0M113.9 171.4h0M219.1 194.7h0M277.7 126.0h0M545.2 181.8h0M232.5 192.1h0M621.5 72.0h0M161.2 184.7h0M509.7 184.1h0M603.8 151.2h0M224.9 200.4h0M583.7 170.9h0M140.5 116.6h0M218.3 192.8h0M555.2 165.0h0M125.8 123.8h0M697.6 157.8h0M457.2 84.7h0M200.4 128.6h0M147.6 159.3h0M179.3 114.2h0M134.5 115.1h0M186.6 127.4h0M178.9 174.0h0M123.0 80.0h0M188.6 156.6h0M156.7 121.9h0M558.0 113.3h0M51.4 91.8h0M226.4 119.1h0M200.9 153.1h0M597.2 165.1h0M111.9 179.6h0M166.6 174.6h0M694.0 147.6h0M592.9 128.2h0M120.5 117.9h0M137.1 188.9h0M457.3 197.2h0M228.3 168.3h0M553.9 155.3h0M149.1 132.7h0M113.8 173.8h0M251.6 134.0h0M212.8 193.8h0M256.3 154.3h0M225.9 113.6h0M564.1 162.1h0M154.8 100.0h0M534.3 76.6h0M167.9 208.3h0M125.3 170.5h0M222.0 162.5h0M581.4 195.0h0M634.8 130.7h0M219.8 170.8h0M110.3 104.0h0M543.3 191.5h0M120.5 123.5h0M208.5 186.4h0M157.5 99.3h0M613.3 161.4h0M577.5 171.1h0M132.6 113.3h0M109.8 109.5h0M122.4 168.6h0M103.5 171.4h0M183.6 172.6h0M51.4 202.4h0M571.9 128.0h0M555.3 163.0h0M212.0 165.8h0M551.1 160.7h0M203.1 148.8h0M213.8 166.5h0M676.6 134.6h0M550.1 172.7h0M174.9 171.4h0M175.9 152.4h0M198.4 167.4h0M111.6 187.4h0M570.8 125.5h0M115.8 118.9h0M197.0 173.3h0M581.0 194.5h0M585.9 175.8h0M152.9 178.0h0M221.8 155.9h0M563.9 120.4h0M532.6 115.1h0M198.2 123.9h0M613.2 126.8h0M202.7 190.2h0M600.2 172.9h0M230.7 117.8h0M51.3 259.0h0M121.2 111.2h0M259.6 114.7h0M581.0 178.8h0M547.6 191.5h0M185.9 158.3h0M568.2 116.5h0"/></defs>
<use href="#p23" class="ro"/><use href="#p23" class="ri"/>
<defs><path id="p24" d="M588.0 105.7h0M541.7 164.5h0M558.3 157.3h0M549.7 180.2h0M187.3 120.6h0M208.3 166.7h0M566.6 172.9h0M51.2 72.6h0M219.8 196.0h0M264.9 160.5h0M163.6 211.6h0M678.0 147.0h0M585.5 134.6h0M132.4 88.4h0M517.5 173.2h0M225.4 148.4h0M165.0 196.0h0M557.5 119.5h0M610.1 130.4h0M103.4 177.7h0M628.0 167.5h0M197.5 216.0h0M219.4 160.4h0M516.6 191.1h0M627.7 165.9h0M234.3 165.2h0M205.6 166.1h0M186.0 148.8h0M51.1 88.6h0M131.0 155.9h0M456.9 207.0h0M158.1 220.4h0M167.2 165.2h0M184.0 242.7h0M248.3 119.4h0M563.4 117.2h0M157.0 97.2h0M149.3 217.0h0M636.5 150.6h0M157.9 189.1h0M178.6 189.4h0M564.0 184.8h0M457.1 37.8h0M526.6 113.9h0M608.8 161.3h0M551.8 122.8h0M194.8 123.8h0M576.6 114.6h0M226.5 136.2h0M618.5 115.8h0M172.1 173.9h0M550.7 177.0h0M190.9 129.9h0M546.8 113.1h0M169.2 155.8h0M664.6 126.0h0M574.9 151.5h0M588.3 124.6h0M117.0 181.7h0M594.3 150.8h0M197.5 105.0h0M586.7 184.2h0M158.8 115.6h0M577.6 128.0h0M213.0 125.5h0M170.4 188.4h0M206.2 113.4h0M119.1 185.3h0M140.0 125.6h0M629.1 129.3h0M104.1 115.2h0M150.7 212.0h0M566.0 116.5h0M581.6 171.6h0M164.6 214.9h0M691.3 153.5h0M619.0 154.9h0M51.1 173.6h0M559.1 195.2h0M158.7 164.5h0M150.2 160.5h0M134.8 95.7h0M105.3 177.7h0M525.8 180.0h0M546.9 171.3h0M174.8 182.1h0M51.3 196.0h0M227.7 172.1h0M178.5 97.6h0M51.4 191.2h0M617.6 149.8h0M540.9 81.8h0M168.9 163.1h0M167.5 155.4h0M127.0 108.5h0M566.1 132.6h0M592.9 124.7h0M457.0 178.0h0M112.2 102.3h0M161.4 93.6h0M180.1 151.9h0M251.1 161.5h0M591.6 178.1h0M145.1 189.9h0M224.2 225.8h0M198.6 222.1h0M580.0 181.6h0M537.2 172.4h0M614.2 155.1h0M200.4 110.6h0M150.8 175.6h0M551.3 91.4h0M149.3 206.0h0M208.2 170.6h0M203.1 125.0h0M255.0 160.9h0M172.6 164.1h0M156.8 127.8h0M561.7 167.9h0M150.1 188.6h0M204.8 94.8h0M593.0 133.7h0M134.7 89.6h0M51.4 96.6h0M585.6 103.3h0M237.6 134.6h0M554.1 114.0h0M645.3 166.3h0"/></defs>
<use href="#p24" class="ro"/><use href="#p24" class="ri"/>
<defs><path id="p25" d="M534.8 103.7h0M565.9 128.9h0M133.4 179.9h0M611.0 153.7h0M134.1 127.1h0M625.6 159.6h0M235.2 132.2h0M208.5 225.8h0M235.6 162.2h0M173.9 120.1h0M548.0 168.4h0M214.5 150.7h0M520.2 179.6h0M609.9 127.2h0M558.7 172.8h0M192.7 243.8h0M203.7 170.6h0M145.1 101.6h0M543.2 127.7h0M112.5 100.0h0M647.2 133.2h0M122.0 159.2h0M646.0 156.4h0M571.9 172.2h0M167.3 108.5h0M130.8 197.7h0M664.2 125.9h0M581.7 193.7h0M591.3 121.1h0M238.5 162.4h0M632.4 131.2h0M673.8 129.5h0M585.9 121.7h0M686.0 147.5h0M167.2 130.3h0M554.1 98.6h0M109.6 113.2h0M568.8 184.8h0M158.9 112.1h0M557.9 111.0h0M530.9 161.6h0M591.4 158.5h0M109.1 176.8h0M203.4 120.8h0M242.9 117.8h0M599.2 121.6h0M151.7 91.0h0M536.9 179.5h0M603.5 168.6h0M189.3 173.5h0M590.8 111.6h0M261.6 163.9h0M575.3 162.8h0M162.9 99.9h0M116.4 193.8h0M649.7 151.0h0M183.3 159.3h0M131.4 97.8h0M457.1 181.2h0M212.2 153.4h0M110.9 163.5h0M217.0 150.3h0M51.3 245.0h0M199.6 171.7h0M189.9 187.9h0M181.7 174.4h0M168.3 134.7h0M169.5 73.3h0M521.7 119.0h0M569.5 167.5h0M51.1 93.4h0M198.2 171.2h0M518.2 93.5h0M247.6 128.5h0M551.8 130.3h0M532.4 89.7h0M110.0 106.3h0M195.7 130.6h0M597.4 190.9h0M596.2 114.0h0M255.2 177.2h0M263.3 163.0h0M232.7 157.2h0M606.3 162.4h0M189.7 150.7h0M143.7 92.6h0M253.8 126.5h0M549.9 169.4h0M608.4 124.4h0M115.5 109.1h0M568.9 128.7h0M230.4 151.1h0M611.8 163.1h0M190.1 195.5h0M199.0 98.8h0M151.3 112.3h0M622.3 130.8h0M619.7 161.4h0M123.7 114.7h0M457.1 55.9h0M170.1 123.9h0M247.6 150.8h0M174.0 104.6h0M597.3 161.5h0M214.0 132.6h0M529.6 121.7h0M239.0 131.1h0M595.7 80.7h0M611.3 165.9h0M543.4 190.8h0M457.3 83.1h0M457.1 95.9h0M537.1 184.8h0M554.7 104.7h0M148.4 126.0h0M614.3 163.5h0M166.3 186.1h0M519.2 194.5h0M228.9 131.1h0M113.7 179.9h0M113.0 105.7h0M212.5 214.2h0M205.8 155.6h0M109.1 164.2h0M563.8 174.5h0M148.5 162.5h0M97.8 178.9h0M171.2 218.2h0"/></defs>
<use href="#p25" class="ro"/><use href="#p25" class="ri"/>
<defs><path id="p26" d="M215.0 176.4h0M676.8 134.8h0M581.2 185.6h0M526.1 189.6h0M620.7 178.8h0M230.5 153.6h0M51.1 188.0h0M600.1 162.5h0M609.4 123.9h0M561.0 133.3h0M594.6 195.7h0M584.0 163.6h0M147.8 164.7h0M570.5 160.6h0M169.3 192.4h0M201.9 213.8h0M560.6 157.4h0M214.0 157.1h0M568.3 232.3h0M128.4 193.2h0M229.9 176.7h0M531.4 168.2h0M217.3 172.1h0M521.1 110.8h0M577.2 102.4h0M457.3 187.6h0M600.4 193.7h0M135.5 210.9h0M564.1 155.1h0M133.4 172.2h0M111.4 93.3h0M569.3 152.2h0M176.1 162.7h0M149.9 166.2h0M122.3 195.0h0M178.3 158.2h0M548.8 121.3h0M560.1 107.4h0M457.2 100.7h0M189.9 152.9h0M511.2 100.2h0M457.1 190.8h0M165.8 112.4h0M532.1 196.8h0M570.3 180.2h0M199.5 156.7h0M149.9 179.5h0M457.0 89.5h0M457.1 195.6h0M659.3 149.7h0M599.2 117.1h0M192.2 108.7h0M605.0 132.5h0M532.7 105.3h0M542.5 179.6h0M162.2 172.2h0M552.4 110.1h0M545.6 174.3h0M120.5 98.9h0M241.4 162.7h0M261.9 125.5h0M457.2 214.2h0M252.3 167.6h0M125.7 105.7h0M209.2 125.5h0M121.6 95.3h0M136.8 87.6h0M581.7 126.3h0M569.6 97.0h0M231.1 124.1h0M135.8 167.6h0M622.1 153.0h0M544.6 189.8h0M534.7 87.7h0M143.2 127.0h0M555.6 108.2h0M170.4 127.3h0M108.1 186.8h0M588.3 154.6h0M599.2 133.8h0M51.3 184.8h0M161.5 111.9h0M163.6 171.9h0M643.8 133.5h0M525.3 199.3h0M111.3 90.4h0M563.0 106.8h0M138.1 107.3h0M543.0 124.4h0M540.2 126.3h0M535.7 109.0h0M577.5 174.9h0M170.7 166.7h0M153.1 111.7h0M145.4 104.6h0M173.6 133.5h0M143.5 98.0h0M539.7 178.9h0M180.9 193.1h0M156.0 169.1h0M573.6 125.1h0M619.3 157.4h0M139.2 129.3h0M229.1 111.8h0M222.9 152.8h0M563.3 165.7h0M192.4 176.4h0M538.2 123.7h0M278.6 166.9h0M630.6 134.7h0M620.9 128.2h0M598.9 115.2h0M207.2 111.6h0M251.6 118.2h0M621.4 137.5h0M219.8 180.3h0M186.6 167.7h0M535.0 97.6h0M231.4 182.6h0M207.4 219.3h0M619.2 125.7h0M134.1 159.0h0M240.9 177.4h0M669.0 165.9h0M51.4 218.4h0M105.3 180.0h0M153.3 109.0h0M646.3 123.6h0"/></defs>
<use href="#p26" class="ro"/><use href="#p26" class="ri"/>
<defs><path id="p27" d="M624.3 117.1h0M157.5 113.2h0M697.1 157.4h0M159.8 131.2h0M189.1 166.0h0M191.9 186.8h0M177.7 170.5h0M180.0 149.5h0M227.9 175.2h0M595.7 130.8h0M169.0 179.0h0M606.3 154.0h0M167.2 114.7h0M146.5 133.5h0M156.8 172.1h0M152.6 210.5h0M184.0 95.4h0M537.8 117.4h0M117.2 98.3h0M684.0 148.6h0M219.9 151.7h0M180.2 159.6h0M628.8 161.4h0M555.1 101.0h0M607.4 131.9h0M546.6 99.6h0M457.1 200.4h0M551.7 78.6h0M138.9 158.1h0M167.3 120.5h0M638.2 160.3h0M210.1 202.8h0M152.6 160.4h0M159.4 177.0h0M518.7 117.7h0M210.6 175.4h0M186.1 222.1h0M217.6 165.9h0M191.3 162.0h0M567.3 159.6h0M120.3 181.0h0M139.2 197.7h0M539.9 181.9h0M127.9 183.5h0M149.6 182.7h0M184.5 175.4h0M557.9 100.2h0M219.2 167.9h0M538.9 112.0h0M104.0 100.1h0M588.9 163.7h0M650.5 151.3h0M605.0 150.2h0M51.2 95.0h0M507.4 181.9h0M211.4 162.9h0M139.9 90.1h0M51.3 253.2h0M51.3 205.6h0M563.0 186.0h0M697.5 158.0h0M529.0 179.7h0M635.3 127.7h0M148.2 190.4h0M190.3 104.6h0M591.7 125.0h0M232.9 168.5h0M580.2 132.8h0M561.9 176.2h0M184.4 95.5h0M181.7 116.2h0M175.1 188.1h0M457.0 179.6h0M258.9 187.3h0M206.5 186.6h0M161.3 199.8h0M520.8 116.5h0M526.1 186.8h0M558.0 179.5h0M130.3 194.4h0M152.9 168.3h0M137.7 119.8h0M605.7 156.8h0M528.2 186.7h0M137.3 198.8h0M555.5 181.3h0M254.5 174.8h0M221.0 116.0h0M137.3 170.6h0M165.1 96.7h0M164.3 166.7h0M166.8 226.9h0M138.0 128.8h0M160.3 213.8h0M129.0 125.6h0M193.2 125.4h0M111.9 167.3h0M142.9 168.7h0M226.3 128.4h0M161.9 177.9h0M457.0 182.8h0M577.5 107.4h0M127.4 157.7h0M151.1 122.6h0M582.7 112.6h0M233.6 135.1h0M571.9 131.0h0M457.3 97.5h0M611.7 166.8h0M567.3 156.1h0M51.5 237.0h0M528.5 171.6h0M178.7 130.1h0M145.6 185.4h0M214.0 160.6h0M560.7 161.3h0M200.4 115.3h0M128.3 121.1h0M120.6 165.5h0M188.6 179.0h0M544.5 171.6h0M221.9 181.0h0M123.5 94.4h0M564.8 167.9h0M574.3 117.4h0M225.4 163.7h0M549.5 183.0h0M228.6 162.5h0"/></defs>
<use href="#p27" class="ro"/><use href="#p27" class="ri"/>
<defs><path id="p28" d="M112.4 177.0h0M566.6 153.6h0M122.8 107.7h0M653.5 165.1h0M175.0 178.7h0M123.7 122.9h0M624.4 153.6h0M123.4 166.8h0M585.4 125.2h0M201.1 125.0h0M162.1 128.5h0M117.3 164.5h0M253.5 112.3h0M273.6 118.3h0M51.4 241.0h0M551.9 196.9h0M212.9 239.4h0M151.2 132.7h0M191.5 152.3h0M211.7 114.7h0M106.5 116.7h0M142.8 159.3h0M226.1 151.7h0M624.1 136.9h0M236.5 154.5h0M575.7 176.6h0M123.1 81.1h0M51.1 87.0h0M648.9 131.0h0M162.5 223.6h0M638.6 164.5h0M457.1 65.5h0M194.3 217.1h0M630.1 119.3h0M158.4 153.6h0M133.3 163.4h0M264.9 124.7h0M120.7 83.4h0M228.5 181.4h0M223.2 174.3h0M116.5 171.7h0M689.1 133.2h0M173.3 151.4h0M105.8 174.5h0M201.9 213.8h0M615.3 126.7h0M539.8 160.6h0M682.0 147.2h0M159.3 135.1h0M162.5 135.1h0M156.4 208.2h0M618.8 119.4h0M632.4 104.3h0M119.4 174.5h0M147.0 187.8h0M177.7 208.2h0M578.3 155.1h0M590.3 132.0h0M578.4 180.9h0M121.2 120.4h0M136.7 97.9h0M217.7 120.0h0M594.3 157.7h0M207.4 220.4h0M144.8 118.0h0M244.1 174.3h0M51.3 207.2h0M457.1 198.8h0M51.3 247.0h0M576.9 129.9h0M162.7 92.2h0M187.8 113.9h0M205.7 242.7h0M222.6 159.9h0M211.2 159.7h0M257.9 163.1h0M202.9 198.3h0M220.9 183.0h0M589.0 173.5h0M160.3 214.9h0M162.2 168.7h0M523.4 186.1h0M146.9 167.7h0M51.4 226.4h0M212.5 111.3h0M183.8 119.4h0M209.0 154.8h0M121.1 104.2h0M603.8 154.5h0M505.1 179.2h0M533.0 178.8h0M622.4 158.5h0M51.3 262.3h0M580.3 114.1h0M538.8 114.6h0M558.0 199.0h0M125.9 198.1h0M236.9 209.9h0M691.3 153.2h0M148.0 123.0h0M228.1 198.1h0M624.9 162.9h0M530.7 178.1h0M638.7 135.2h0M215.6 114.1h0M516.1 95.8h0M151.9 118.6h0M556.8 168.6h0M264.8 196.7h0M278.3 125.9h0M195.4 149.3h0M207.1 107.8h0M656.2 127.8h0M647.0 136.3h0M218.4 122.6h0M159.6 159.8h0M194.4 156.9h0M186.4 174.2h0M559.2 163.4h0M627.9 152.8h0M553.8 171.0h0M609.1 170.5h0M203.0 130.7h0M233.7 158.7h0M545.3 184.4h0M105.3 171.5h0M637.1 147.1h0M238.8 157.5h0"/></defs>
<use href="#p28" class="ro"/><use href="#p28" class="ri"/>
<defs><path id="p29" d="M156.5 185.1h0M242.0 168.1h0M195.7 192.0h0M209.2 174.4h0M569.4 170.9h0M169.0 225.8h0M692.0 148.4h0M553.0 180.0h0M158.9 183.3h0M128.3 189.3h0M160.7 180.7h0M118.3 108.7h0M557.6 198.1h0M51.3 228.0h0M191.9 154.7h0M582.2 187.2h0M568.9 186.1h0M117.1 100.9h0M188.5 199.2h0M120.6 161.6h0M164.9 163.4h0M258.7 157.7h0M127.0 110.5h0M205.2 217.1h0M186.5 110.5h0M108.9 182.7h0M560.4 110.7h0M613.2 149.0h0M223.1 165.5h0M542.4 160.1h0M170.2 158.7h0M239.1 167.2h0M115.4 102.5h0M147.9 177.9h0M128.2 173.4h0M118.2 85.9h0M156.3 162.4h0M621.2 178.4h0M560.6 123.0h0M588.8 134.6h0M238.5 150.7h0M248.4 116.6h0M549.9 123.5h0M151.9 99.0h0M154.0 192.4h0M527.9 107.0h0M145.4 157.7h0M123.0 172.1h0M248.3 166.5h0M590.5 129.2h0M150.2 185.0h0M549.5 157.4h0M561.5 93.5h0M695.7 161.3h0M640.3 132.2h0M194.8 197.6h0M519.5 90.9h0M117.9 167.5h0M547.2 181.7h0M628.8 180.1h0M51.1 186.4h0M540.3 121.5h0M222.8 127.6h0M232.5 236.8h0M691.0 153.5h0M584.5 115.7h0M131.6 119.7h0M457.0 86.3h0M601.4 124.1h0M643.1 127.3h0M155.7 152.8h0M157.0 108.5h0M613.5 182.8h0M170.3 171.7h0M154.8 96.6h0M549.4 108.0h0M160.9 159.6h0M110.8 170.6h0M168.1 125.0h0M556.5 184.2h0M114.8 114.7h0M515.4 108.9h0M572.7 187.4h0M206.0 178.7h0M225.0 167.0h0M569.3 177.7h0M238.6 184.9h0M569.9 164.1h0M601.7 119.9h0M230.9 157.9h0M177.5 182.6h0M607.2 122.1h0M51.2 189.6h0M456.9 91.1h0M138.5 190.7h0M517.4 180.2h0M576.5 121.4h0M217.0 190.6h0M219.6 121.9h0M230.2 164.3h0M133.2 156.3h0M518.6 104.6h0M588.4 118.3h0M234.2 175.5h0M234.5 123.5h0M229.6 121.1h0M538.4 108.4h0M158.3 179.9h0M107.2 114.1h0M159.9 127.7h0M179.5 210.9h0M631.6 169.1h0M553.4 164.3h0M216.5 163.2h0M557.1 127.0h0M216.2 155.7h0M192.2 183.0h0M149.9 154.0h0M581.4 157.0h0M146.4 91.8h0M131.5 190.6h0M156.0 158.9h0M133.7 169.6h0M170.5 111.7h0M536.8 175.6h0M457.1 99.1h0M250.6 175.7h0M649.6 135.0h0"/></defs>
<use href="#p29" class="ro"/><use href="#p29" class="ri"/>
<defs><path id="p30" d="M51.3 180.0h0M541.9 167.3h0M142.0 185.8h0M584.1 166.9h0M632.0 119.0h0M121.9 174.9h0M228.4 109.6h0M154.0 186.6h0M583.1 176.6h0M155.1 191.4h0M183.9 103.0h0M542.1 171.4h0M201.5 119.1h0M173.4 157.7h0M220.3 154.5h0M182.5 128.9h0M530.4 175.1h0M599.6 127.2h0M176.4 111.0h0M140.2 99.5h0M51.2 212.0h0M51.3 65.0h0M239.6 123.8h0M220.2 176.7h0M544.8 168.4h0M514.3 174.6h0M172.4 170.4h0M113.2 111.7h0M129.0 112.0h0M211.2 171.4h0M209.1 115.7h0M200.5 160.1h0M203.7 176.7h0M161.4 105.3h0M457.0 186.0h0M587.2 194.8h0M131.5 164.6h0M142.0 104.8h0M220.4 112.7h0M564.8 177.3h0M622.4 156.4h0M153.4 131.5h0M123.3 98.7h0M538.4 127.6h0M533.9 183.7h0M172.0 177.5h0M51.3 82.2h0M642.0 165.9h0M543.1 101.9h0M457.0 71.9h0M572.0 168.2h0M129.6 106.4h0M153.1 173.7h0M619.7 148.2h0M203.6 163.4h0M181.5 164.3h0M51.4 106.2h0M571.1 117.7h0M120.8 196.6h0M161.1 162.7h0M159.5 187.1h0M167.0 201.9h0M546.9 125.8h0M102.7 168.2h0M528.2 167.7h0M636.2 172.7h0M108.7 174.3h0M236.3 149.3h0M156.9 179.0h0M524.7 173.4h0M591.6 156.3h0M130.3 184.7h0M156.7 157.0h0M142.0 195.0h0M572.3 105.8h0M151.7 124.8h0M156.7 119.0h0M244.3 166.7h0M163.2 131.0h0M613.7 116.4h0M615.5 129.4h0M126.3 92.7h0M605.4 160.2h0M142.0 120.7h0M166.6 183.6h0M142.8 118.6h0M246.9 169.4h0M51.1 83.8h0M163.8 153.2h0M235.5 167.2h0M594.0 122.4h0M603.5 171.6h0M197.4 157.0h0M189.9 160.3h0M164.0 73.3h0M617.2 156.0h0M106.6 106.9h0M522.4 112.5h0M247.7 162.1h0M176.9 124.1h0M125.6 126.5h0M654.0 184.7h0M128.7 115.9h0M166.9 158.4h0M219.4 191.9h0M534.3 164.4h0M657.7 150.6h0M245.5 129.0h0M457.0 75.1h0M142.6 95.5h0M175.7 169.5h0M203.8 154.8h0M646.4 155.8h0M586.1 155.2h0M640.4 126.1h0M51.4 176.8h0M569.5 158.4h0M144.9 107.3h0M641.0 135.7h0M567.3 169.0h0M154.1 118.3h0M174.5 221.4h0M528.0 178.0h0M650.8 150.5h0M205.9 158.7h0M457.1 233.4h0M544.7 177.4h0M223.2 149.3h0"/></defs>
<use href="#p30" class="ro"/><use href="#p30" class="ri"/>
<defs><path id="p31" d="M145.2 183.7h0M228.2 159.6h0M209.6 104.3h0M153.1 189.8h0M558.0 198.1h0M240.9 188.0h0M147.6 117.2h0M135.3 104.4h0M532.2 110.9h0M119.5 178.4h0M585.7 165.5h0M533.7 161.8h0M216.2 174.9h0M119.0 193.6h0M167.8 168.3h0M580.6 120.1h0M556.6 155.6h0M188.8 163.8h0M141.9 182.4h0M169.0 207.2h0M209.2 192.8h0M212.2 127.7h0M457.2 78.3h0M127.6 176.7h0M51.3 216.8h0M236.4 121.9h0M671.0 156.4h0M582.9 117.4h0M120.8 172.5h0M145.5 111.2h0M51.3 192.8h0M164.4 133.6h0M156.2 93.0h0M669.0 166.1h0M51.2 71.0h0M132.1 126.4h0M205.9 168.9h0M633.2 157.2h0M653.6 164.8h0M162.2 125.0h0M182.0 131.7h0M639.5 155.3h0M609.4 121.9h0M239.5 121.9h0M607.0 119.0h0M219.4 177.4h0M266.1 129.2h0M578.7 164.8h0M148.0 155.9h0M212.1 108.1h0M177.1 231.3h0M694.0 125.5h0M532.8 102.1h0M251.0 127.3h0M147.9 103.3h0M657.0 128.8h0M136.1 154.5h0M206.8 126.1h0M195.4 105.0h0M158.1 219.3h0M524.9 171.5h0M175.6 129.9h0M128.6 90.5h0M260.6 171.9h0M184.0 111.7h0M176.9 126.1h0M194.3 194.6h0M152.6 180.0h0M136.5 110.5h0M597.3 121.7h0M171.2 121.8h0M209.5 156.9h0M167.1 178.2h0M533.4 190.1h0M51.2 175.2h0M227.7 166.1h0M552.9 119.5h0M624.8 149.8h0M127.8 202.2h0M233.9 152.3h0M457.1 87.9h0M178.3 100.9h0M574.4 159.3h0M532.7 98.3h0M562.9 110.2h0M585.7 131.3h0M140.0 103.6h0M530.3 111.6h0M624.7 95.5h0M186.1 178.1h0M524.8 183.0h0M527.4 104.9h0M531.5 181.1h0M602.6 174.5h0M626.1 129.0h0M120.7 169.5h0M176.9 107.0h0M624.3 123.8h0M230.8 63.7h0M589.5 150.9h0M225.1 160.3h0M51.2 199.2h0M122.9 163.5h0M134.6 99.4h0M511.9 173.8h0M609.5 118.3h0M631.7 125.3h0M239.5 118.4h0M615.1 123.1h0M617.1 165.1h0M139.1 168.5h0M156.3 174.5h0M618.9 128.8h0M644.0 169.4h0M198.2 126.4h0M644.1 123.8h0M574.4 111.0h0M622.4 161.8h0M168.3 128.2h0M210.1 181.2h0M616.1 152.8h0M127.6 160.9h0M150.9 170.1h0M578.7 151.2h0M262.0 114.7h0M201.0 168.5h0M136.4 179.6h0M604.2 128.1h0"/></defs>
<use href="#p31" class="ro"/><use href="#p31" class="ri"/>
<defs><path id="p32" d="M606.7 134.0h0M534.0 171.7h0M173.7 123.8h0M511.9 186.2h0M645.4 152.5h0M558.4 176.5h0M540.1 166.1h0M591.3 171.5h0M128.0 187.1h0M544.3 117.4h0M169.9 184.6h0M528.8 82.5h0M632.7 173.7h0M229.0 192.9h0M580.5 117.3h0M563.3 153.0h0M51.1 223.2h0M599.9 152.9h0M143.1 125.1h0M577.5 162.1h0M560.4 116.7h0M137.9 100.9h0M568.3 123.0h0M203.0 106.4h0M120.6 101.8h0M199.6 149.7h0M112.8 109.5h0M162.0 109.2h0M178.8 150.1h0M631.6 175.1h0M144.5 160.3h0M176.4 98.6h0M136.8 90.9h0M249.0 176.3h0M575.2 153.0h0M538.5 163.1h0M95.7 176.4h0M567.7 163.5h0M555.4 116.4h0M656.4 150.6h0M228.4 150.4h0M145.4 179.2h0M217.3 177.6h0M256.6 169.6h0M195.4 216.0h0M541.4 90.1h0M175.8 101.5h0M189.7 114.0h0M112.2 183.6h0M51.4 74.2h0M563.6 113.4h0M457.1 202.0h0M689.7 133.1h0M148.2 107.6h0M701.0 148.2h0M180.0 181.1h0M114.8 192.6h0M267.3 129.0h0M120.0 108.1h0M538.4 91.2h0M244.0 151.2h0M176.7 211.6h0M627.4 149.5h0M614.6 173.9h0M135.9 173.3h0M561.6 164.9h0M564.6 159.5h0M572.5 177.8h0M153.2 115.7h0M137.4 104.4h0M145.5 123.6h0M588.3 116.1h0M635.2 137.2h0M147.8 110.5h0M599.3 169.7h0M532.9 181.0h0M123.4 190.9h0M135.9 196.8h0M554.9 111.3h0M521.6 196.9h0M572.5 174.3h0M570.5 155.4h0M229.2 128.3h0M566.3 109.2h0M585.7 96.6h0M547.8 176.1h0M176.7 212.7h0M104.7 110.9h0M119.4 188.4h0M522.9 166.7h0M596.6 167.8h0M122.8 79.8h0M123.8 203.7h0M595.5 160.1h0M140.9 109.1h0M174.7 175.4h0M134.8 121.4h0M196.3 88.6h0M596.0 194.8h0M192.4 164.4h0M566.2 176.3h0M547.3 184.1h0M183.1 157.4h0M105.8 187.0h0M148.9 93.9h0M255.9 126.0h0M602.6 164.7h0M128.3 167.7h0M208.2 160.6h0M624.2 120.3h0M508.9 102.5h0M189.2 207.2h0M223.4 113.4h0M51.3 256.5h0M544.2 164.5h0M191.9 170.2h0M166.4 160.9h0M131.9 169.1h0M583.8 158.0h0M578.5 158.9h0M116.6 175.2h0M178.3 176.1h0M630.1 153.7h0M113.0 118.2h0M239.0 159.9h0M646.2 126.7h0"/></defs>
<use href="#p32" class="ro"/><use href="#p32" class="ri"/>
<line x1="38.2" y1="14.8" x2="38.2" y2="270.9" class="ax"/>
<line x1="37.5" y1="270.1" x2="371.5" y2="270.1" class="ax"/>
<line x1="35.2" y1="26.00" x2="38.2" y2="26.00" class="tk"/>
<text x="33.6" y="28.60" class="yl">20</text>
<line x1="35.2" y1="55.15" x2="38.2" y2="55.15" class="tk"/>
<text x="33.6" y="57.75" class="yl">15</text>
<line x1="35.2" y1="84.30" x2="38.2" y2="84.30" class="tk"/>
<text x="33.6" y="86.90" class="yl">10</text>
<line x1="35.2" y1="113.45" x2="38.2" y2="113.45" class="tk"/>
<text x="33.6" y="116.05" class="yl">5</text>
<line x1="35.2" y1="142.60" x2="38.2" y2="142.60" class="tk"/>
<text x="33.6" y="145.20" class="yl">0</text>
<line x1="35.2" y1="171.75" x2="38.2" y2="171.75" class="tk"/>
<text x="33.6" y="174.35" class="yl">-5</text>
<line x1="35.2" y1="200.90" x2="38.2" y2="200.90" class="tk"/>
<text x="33.6" y="203.50" class="yl">-10</text>
<line x1="35.2" y1="230.05" x2="38.2" y2="230.05" class="tk"/>
<text x="33.6" y="232.65" class="yl">-15</text>
<line x1="35.2" y1="259.20" x2="38.2" y2="259.20" class="tk"/>
<text x="33.6" y="261.80" class="yl">-20</text>
<line x1="38.24" y1="270.1" x2="38.24" y2="273" class="tk"/>
<text x="37.84" y="281.4" class="xl">-4</text>
<line x1="61.12" y1="270.1" x2="61.12" y2="273" class="tk"/>
<text x="60.72" y="281.4" class="xl">-2</text>
<line x1="84.00" y1="270.1" x2="84.00" y2="273" class="tk"/>
<text x="83.60" y="281.4" class="xl">0</text>
<line x1="106.88" y1="270.1" x2="106.88" y2="273" class="tk"/>
<text x="106.48" y="281.4" class="xl">2</text>
<line x1="129.76" y1="270.1" x2="129.76" y2="273" class="tk"/>
<text x="129.36" y="281.4" class="xl">4</text>
<line x1="152.64" y1="270.1" x2="152.64" y2="273" class="tk"/>
<text x="152.24" y="281.4" class="xl">6</text>
<line x1="175.52" y1="270.1" x2="175.52" y2="273" class="tk"/>
<text x="175.12" y="281.4" class="xl">8</text>
<line x1="198.40" y1="270.1" x2="198.40" y2="273" class="tk"/>
<text x="198.00" y="281.4" class="xl">10</text>
<line x1="221.28" y1="270.1" x2="221.28" y2="273" class="tk"/>
<text x="220.88" y="281.4" class="xl">12</text>
<line x1="244.16" y1="270.1" x2="244.16" y2="273" class="tk"/>
<text x="243.76" y="281.4" class="xl">14</text>
<line x1="267.04" y1="270.1" x2="267.04" y2="273" class="tk"/>
<text x="266.64" y="281.4" class="xl">16</text>
<line x1="289.92" y1="270.1" x2="289.92" y2="273" class="tk"/>
<text x="289.52" y="281.4" class="xl">18</text>
<line x1="312.80" y1="270.1" x2="312.80" y2="273" class="tk"/>
<text x="312.40" y="281.4" class="xl">20</text>
<line x1="335.68" y1="270.1" x2="335.68" y2="273" class="tk"/>
<text x="335.28" y="281.4" class="xl">22</text>
<line x1="358.56" y1="270.1" x2="358.56" y2="273" class="tk"/>
<text x="358.16" y="281.4" class="xl">24</text>
<text x="-1.3" y="15.0" class="pl">a</text>
<text transform="translate(14.8 136.3) rotate(-90)" class="ml">M</text>
<text x="222.3" y="309.0" class="al">A</text>
<line x1="444.1" y1="14.8" x2="444.1" y2="270.9" class="ax"/>
<line x1="443.4" y1="270.1" x2="779.0" y2="270.1" class="ax"/>
<line x1="441.1" y1="26.00" x2="444.1" y2="26.00" class="tk"/>
<text x="439.5" y="28.60" class="yl">20</text>
<line x1="441.1" y1="55.15" x2="444.1" y2="55.15" class="tk"/>
<text x="439.5" y="57.75" class="yl">15</text>
<line x1="441.1" y1="84.30" x2="444.1" y2="84.30" class="tk"/>
<text x="439.5" y="86.90" class="yl">10</text>
<line x1="441.1" y1="113.45" x2="444.1" y2="113.45" class="tk"/>
<text x="439.5" y="116.05" class="yl">5</text>
<line x1="441.1" y1="142.60" x2="444.1" y2="142.60" class="tk"/>
<text x="439.5" y="145.20" class="yl">0</text>
<line x1="441.1" y1="171.75" x2="444.1" y2="171.75" class="tk"/>
<text x="439.5" y="174.35" class="yl">-5</text>
<line x1="441.1" y1="200.90" x2="444.1" y2="200.90" class="tk"/>
<text x="439.5" y="203.50" class="yl">-10</text>
<line x1="441.1" y1="230.05" x2="444.1" y2="230.05" class="tk"/>
<text x="439.5" y="232.65" class="yl">-15</text>
<line x1="441.1" y1="259.20" x2="444.1" y2="259.20" class="tk"/>
<text x="439.5" y="261.80" class="yl">-20</text>
<line x1="447.70" y1="270.1" x2="447.70" y2="273" class="tk"/>
<text x="447.30" y="281.4" class="xl">-4</text>
<line x1="470.84" y1="270.1" x2="470.84" y2="273" class="tk"/>
<text x="470.44" y="281.4" class="xl">-2</text>
<line x1="493.98" y1="270.1" x2="493.98" y2="273" class="tk"/>
<text x="493.58" y="281.4" class="xl">0</text>
<line x1="517.12" y1="270.1" x2="517.12" y2="273" class="tk"/>
<text x="516.72" y="281.4" class="xl">2</text>
<line x1="540.26" y1="270.1" x2="540.26" y2="273" class="tk"/>
<text x="539.86" y="281.4" class="xl">4</text>
<line x1="563.40" y1="270.1" x2="563.40" y2="273" class="tk"/>
<text x="563.00" y="281.4" class="xl">6</text>
<line x1="586.54" y1="270.1" x2="586.54" y2="273" class="tk"/>
<text x="586.14" y="281.4" class="xl">8</text>
<line x1="609.68" y1="270.1" x2="609.68" y2="273" class="tk"/>
<text x="609.28" y="281.4" class="xl">10</text>
<line x1="632.82" y1="270.1" x2="632.82" y2="273" class="tk"/>
<text x="632.42" y="281.4" class="xl">12</text>
<line x1="655.96" y1="270.1" x2="655.96" y2="273" class="tk"/>
<text x="655.56" y="281.4" class="xl">14</text>
<line x1="679.10" y1="270.1" x2="679.10" y2="273" class="tk"/>
<text x="678.70" y="281.4" class="xl">16</text>
<line x1="702.24" y1="270.1" x2="702.24" y2="273" class="tk"/>
<text x="701.84" y="281.4" class="xl">18</text>
<line x1="725.38" y1="270.1" x2="725.38" y2="273" class="tk"/>
<text x="724.98" y="281.4" class="xl">20</text>
<line x1="748.52" y1="270.1" x2="748.52" y2="273" class="tk"/>
<text x="748.12" y="281.4" class="xl">22</text>
<line x1="771.66" y1="270.1" x2="771.66" y2="273" class="tk"/>
<text x="768.46" y="281.4" class="xl">24</text>
<text x="411.9" y="15.0" class="pl">b</text>
<text transform="translate(422.6 137.0) rotate(-90)" class="ml">M</text>
<text x="633.3" y="309.0" class="al">A</text>
</svg>
</body></html>
